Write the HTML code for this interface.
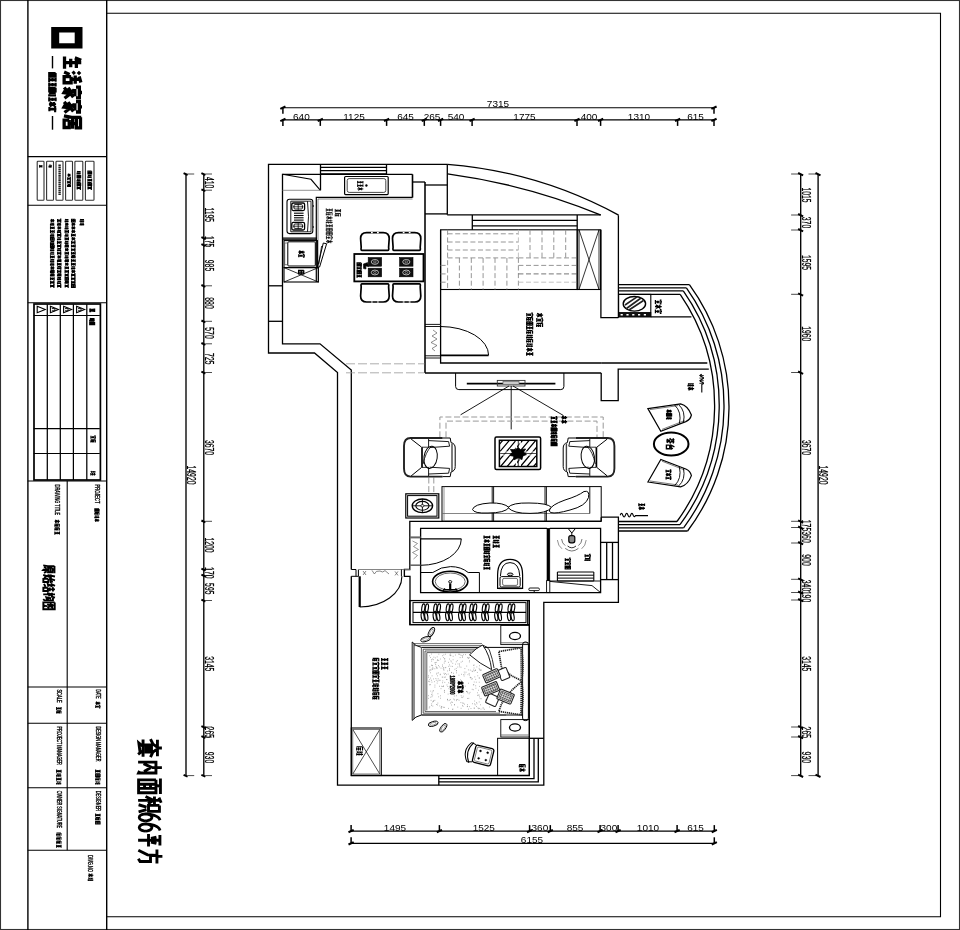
<!DOCTYPE html>
<html><head><meta charset="utf-8"><title>plan</title>
<style>
html,body{margin:0;padding:0;background:#fff;}
body{width:960px;height:930px;overflow:hidden;font-family:"Liberation Sans",sans-serif;}
svg{display:block;position:absolute;left:0;top:0;will-change:transform;}
text{font-family:"Liberation Sans",sans-serif;fill:#000;}
</style></head><body>
<svg width="960" height="930" viewBox="0 0 960 930" fill="none" stroke="#000" stroke-width="1.1" stroke-linecap="butt">
<g id="frame">
<rect x="0.5" y="0.5" width="959" height="929" stroke-width="1.1" stroke="#333"/>
<line x1="27.9" y1="0" x2="27.9" y2="930" stroke-width="1.4"/>
<line x1="106.7" y1="0" x2="106.7" y2="930" stroke-width="1.4"/>
<path d="M106.6,13.3 L940.5,13.3 L940.5,916.8 L106.6,916.8"/>
<line x1="27.7" y1="156.6" x2="106.6" y2="156.6"/>
<line x1="27.7" y1="205.3" x2="106.6" y2="205.3"/>
<line x1="27.7" y1="302.7" x2="106.6" y2="302.7"/>
<line x1="27.7" y1="481" x2="106.6" y2="481"/>
<line x1="27.7" y1="687" x2="106.6" y2="687"/>
<line x1="27.7" y1="723.2" x2="106.6" y2="723.2"/>
<line x1="27.7" y1="787.8" x2="106.6" y2="787.8"/>
<line x1="27.7" y1="850.3" x2="106.6" y2="850.3"/>
<line x1="67.2" y1="481" x2="67.2" y2="850.3"/>
<rect x="34" y="304" width="66.4" height="176" stroke-width="1.7"/>
<line x1="47.3" y1="304.3" x2="47.3" y2="480" stroke-width="1.25"/>
<line x1="60.3" y1="304.3" x2="60.3" y2="480" stroke-width="1.25"/>
<line x1="73.4" y1="304.3" x2="73.4" y2="480" stroke-width="1.25"/>
<line x1="86.8" y1="304.3" x2="86.8" y2="480" stroke-width="1.25"/>
<line x1="33.7" y1="315.5" x2="99.8" y2="315.5" stroke-width="1.2"/>
<line x1="33.7" y1="428.6" x2="99.8" y2="428.6"/>
<line x1="33.7" y1="453.5" x2="99.8" y2="453.5"/>
<path d="M37.2,306.3 L45.2,309.6 L37.2,312.8 Z" stroke-width="1.1"/>
<path d="M50.4,306.3 L58.4,309.6 L50.4,312.8 Z" stroke-width="1.1"/>
<path d="M51.8,308.6 L54.9,308.6 L54.9,310.8 L51.8,310.8" stroke-width="0.9"/>
<path d="M63.6,306.3 L71.6,309.6 L63.6,312.8 Z" stroke-width="1.1"/>
<path d="M65,308.6 L68.1,308.6 L68.1,310.8 L65,310.8" stroke-width="0.9"/>
<path d="M76.6,306.3 L84.6,309.6 L76.6,312.8 Z" stroke-width="1.1"/>
<path d="M78,308.6 L81.1,308.6 L81.1,310.8 L78,310.8" stroke-width="0.9"/>
<rect x="37.2" y="161.2" width="6.8" height="39.1" rx="0.8" stroke-width="1.1" stroke="#333"/>
<rect x="46.6" y="161.2" width="6.9" height="39.1" rx="0.8" stroke-width="1.1" stroke="#333"/>
<rect x="56" y="161.2" width="7" height="39.1" rx="0.8" stroke-width="1.1" stroke="#333"/>
<rect x="65.6" y="161.2" width="6.9" height="39.1" rx="0.8" stroke-width="1.1" stroke="#333"/>
<rect x="74.9" y="161.2" width="7.9" height="39.1" rx="0.8" stroke-width="1.1" stroke="#333"/>
<rect x="85.4" y="161.2" width="8.6" height="39.1" rx="0.8" stroke-width="1.1" stroke="#333"/>
<path d="M51.2,27.1H82.5V48.6H51.2Z M59.2,32.6V43.2H74.7V32.6Z" fill="#000" stroke="none" fill-rule="evenodd"/>
<line x1="52.5" y1="56" x2="52.5" y2="68.4" stroke-width="1.4"/>
<line x1="52.5" y1="116" x2="52.5" y2="129.7" stroke-width="1.4"/>
</g>
<g id="dims">
<line x1="283" y1="107.7" x2="714" y2="107.7" stroke-width="1.15"/>
<line x1="283" y1="119.9" x2="714" y2="119.9" stroke-width="1.15"/>
<line x1="282.9" y1="107.3" x2="282.9" y2="113.7" stroke-width="1.5"/>
<line x1="280.3" y1="108.9" x2="285.5" y2="106.5" stroke-width="2.1"/>
<line x1="714" y1="107.3" x2="714" y2="113.7" stroke-width="1.5"/>
<line x1="711.4" y1="108.9" x2="716.6" y2="106.5" stroke-width="2.1"/>
<line x1="282.9" y1="119.5" x2="282.9" y2="125.9" stroke-width="1.5"/>
<line x1="280.3" y1="121.1" x2="285.5" y2="118.7" stroke-width="2.1"/>
<line x1="320.3" y1="119.5" x2="320.3" y2="125.9" stroke-width="1.5"/>
<line x1="317.7" y1="121.1" x2="322.9" y2="118.7" stroke-width="2.1"/>
<line x1="386.6" y1="119.5" x2="386.6" y2="125.9" stroke-width="1.5"/>
<line x1="384" y1="121.1" x2="389.2" y2="118.7" stroke-width="2.1"/>
<line x1="424.3" y1="119.5" x2="424.3" y2="125.9" stroke-width="1.5"/>
<line x1="421.7" y1="121.1" x2="426.9" y2="118.7" stroke-width="2.1"/>
<line x1="440.6" y1="119.5" x2="440.6" y2="125.9" stroke-width="1.5"/>
<line x1="438" y1="121.1" x2="443.2" y2="118.7" stroke-width="2.1"/>
<line x1="472.1" y1="119.5" x2="472.1" y2="125.9" stroke-width="1.5"/>
<line x1="469.5" y1="121.1" x2="474.7" y2="118.7" stroke-width="2.1"/>
<line x1="577" y1="119.5" x2="577" y2="125.9" stroke-width="1.5"/>
<line x1="574.4" y1="121.1" x2="579.6" y2="118.7" stroke-width="2.1"/>
<line x1="600.6" y1="119.5" x2="600.6" y2="125.9" stroke-width="1.5"/>
<line x1="598" y1="121.1" x2="603.2" y2="118.7" stroke-width="2.1"/>
<line x1="677.6" y1="119.5" x2="677.6" y2="125.9" stroke-width="1.5"/>
<line x1="675" y1="121.1" x2="680.2" y2="118.7" stroke-width="2.1"/>
<line x1="714" y1="119.5" x2="714" y2="125.9" stroke-width="1.5"/>
<line x1="711.4" y1="121.1" x2="716.6" y2="118.7" stroke-width="2.1"/>
<text transform="translate(498,107.3) scale(1.09,1)" text-anchor="middle" font-size="9.2" stroke="#000" stroke-width="0" fill="#000">7315</text>
<text transform="translate(301.4,119.6) scale(1.09,1)" text-anchor="middle" font-size="9.2" stroke="#000" stroke-width="0" fill="#000">640</text>
<text transform="translate(354,119.6) scale(1.09,1)" text-anchor="middle" font-size="9.2" stroke="#000" stroke-width="0" fill="#000">1125</text>
<text transform="translate(405.5,119.6) scale(1.09,1)" text-anchor="middle" font-size="9.2" stroke="#000" stroke-width="0" fill="#000">645</text>
<text transform="translate(432,119.6) scale(1.09,1)" text-anchor="middle" font-size="9.2" stroke="#000" stroke-width="0" fill="#000">265</text>
<text transform="translate(456,119.6) scale(1.09,1)" text-anchor="middle" font-size="9.2" stroke="#000" stroke-width="0" fill="#000">540</text>
<text transform="translate(524.5,119.6) scale(1.09,1)" text-anchor="middle" font-size="9.2" stroke="#000" stroke-width="0" fill="#000">1775</text>
<text transform="translate(589,119.6) scale(1.09,1)" text-anchor="middle" font-size="9.2" stroke="#000" stroke-width="0" fill="#000">400</text>
<text transform="translate(639,119.6) scale(1.09,1)" text-anchor="middle" font-size="9.2" stroke="#000" stroke-width="0" fill="#000">1310</text>
<text transform="translate(695.5,119.6) scale(1.09,1)" text-anchor="middle" font-size="9.2" stroke="#000" stroke-width="0" fill="#000">615</text>
<line x1="351" y1="831.1" x2="714.3" y2="831.1" stroke-width="1.15"/>
<line x1="351" y1="843.3" x2="714.3" y2="843.3" stroke-width="1.15"/>
<line x1="351.1" y1="843.7" x2="351.1" y2="837.3" stroke-width="1.5"/>
<line x1="348.5" y1="844.5" x2="353.7" y2="842.1" stroke-width="2.1"/>
<line x1="714.3" y1="843.7" x2="714.3" y2="837.3" stroke-width="1.5"/>
<line x1="711.7" y1="844.5" x2="716.9" y2="842.1" stroke-width="2.1"/>
<line x1="351.1" y1="831.5" x2="351.1" y2="825.1" stroke-width="1.5"/>
<line x1="348.5" y1="832.3" x2="353.7" y2="829.9" stroke-width="2.1"/>
<line x1="439.4" y1="831.5" x2="439.4" y2="825.1" stroke-width="1.5"/>
<line x1="436.8" y1="832.3" x2="442" y2="829.9" stroke-width="2.1"/>
<line x1="529.6" y1="831.5" x2="529.6" y2="825.1" stroke-width="1.5"/>
<line x1="527" y1="832.3" x2="532.2" y2="829.9" stroke-width="2.1"/>
<line x1="550.3" y1="831.5" x2="550.3" y2="825.1" stroke-width="1.5"/>
<line x1="547.7" y1="832.3" x2="552.9" y2="829.9" stroke-width="2.1"/>
<line x1="600.1" y1="831.5" x2="600.1" y2="825.1" stroke-width="1.5"/>
<line x1="597.5" y1="832.3" x2="602.7" y2="829.9" stroke-width="2.1"/>
<line x1="618.1" y1="831.5" x2="618.1" y2="825.1" stroke-width="1.5"/>
<line x1="615.5" y1="832.3" x2="620.7" y2="829.9" stroke-width="2.1"/>
<line x1="677.1" y1="831.5" x2="677.1" y2="825.1" stroke-width="1.5"/>
<line x1="674.5" y1="832.3" x2="679.7" y2="829.9" stroke-width="2.1"/>
<line x1="714.3" y1="831.5" x2="714.3" y2="825.1" stroke-width="1.5"/>
<line x1="711.7" y1="832.3" x2="716.9" y2="829.9" stroke-width="2.1"/>
<text transform="translate(395,830.8) scale(1.09,1)" text-anchor="middle" font-size="9.2" stroke="#000" stroke-width="0" fill="#000">1495</text>
<text transform="translate(483.8,830.8) scale(1.09,1)" text-anchor="middle" font-size="9.2" stroke="#000" stroke-width="0" fill="#000">1525</text>
<text transform="translate(539.9,830.8) scale(1.09,1)" text-anchor="middle" font-size="9.2" stroke="#000" stroke-width="0" fill="#000">360</text>
<text transform="translate(575,830.8) scale(1.09,1)" text-anchor="middle" font-size="9.2" stroke="#000" stroke-width="0" fill="#000">855</text>
<text transform="translate(608.9,830.8) scale(1.09,1)" text-anchor="middle" font-size="9.2" stroke="#000" stroke-width="0" fill="#000">300</text>
<text transform="translate(648,830.8) scale(1.09,1)" text-anchor="middle" font-size="9.2" stroke="#000" stroke-width="0" fill="#000">1010</text>
<text transform="translate(695.5,830.8) scale(1.09,1)" text-anchor="middle" font-size="9.2" stroke="#000" stroke-width="0" fill="#000">615</text>
<text transform="translate(532,843) scale(1.09,1)" text-anchor="middle" font-size="9.2" stroke="#000" stroke-width="0" fill="#000">6155</text>
<line x1="186" y1="174" x2="186" y2="775.6" stroke-width="1.35"/>
<line x1="203.8" y1="174" x2="203.8" y2="775.6" stroke-width="1.35"/>
<line x1="187.6" y1="174" x2="194.2" y2="174" stroke-width="0.9" stroke="#3a3a3a"/>
<line x1="183.6" y1="173.2" x2="187.6" y2="175" stroke-width="2.0"/>
<line x1="187.6" y1="775.6" x2="194.2" y2="775.6" stroke-width="0.9" stroke="#3a3a3a"/>
<line x1="183.6" y1="774.8" x2="187.6" y2="776.6" stroke-width="2.0"/>
<line x1="205.4" y1="174" x2="212" y2="174" stroke-width="0.9" stroke="#3a3a3a"/>
<line x1="201.4" y1="173.2" x2="205.4" y2="175" stroke-width="2.0"/>
<line x1="205.4" y1="190.2" x2="212" y2="190.2" stroke-width="0.9" stroke="#3a3a3a"/>
<line x1="201.4" y1="189.4" x2="205.4" y2="191.2" stroke-width="2.0"/>
<line x1="205.4" y1="238" x2="212" y2="238" stroke-width="0.9" stroke="#3a3a3a"/>
<line x1="201.4" y1="237.2" x2="205.4" y2="239" stroke-width="2.0"/>
<line x1="205.4" y1="245" x2="212" y2="245" stroke-width="0.9" stroke="#3a3a3a"/>
<line x1="201.4" y1="244.2" x2="205.4" y2="246" stroke-width="2.0"/>
<line x1="205.4" y1="285.8" x2="212" y2="285.8" stroke-width="0.9" stroke="#3a3a3a"/>
<line x1="201.4" y1="285" x2="205.4" y2="286.8" stroke-width="2.0"/>
<line x1="205.4" y1="321.3" x2="212" y2="321.3" stroke-width="0.9" stroke="#3a3a3a"/>
<line x1="201.4" y1="320.5" x2="205.4" y2="322.3" stroke-width="2.0"/>
<line x1="205.4" y1="343.8" x2="212" y2="343.8" stroke-width="0.9" stroke="#3a3a3a"/>
<line x1="201.4" y1="343" x2="205.4" y2="344.8" stroke-width="2.0"/>
<line x1="205.4" y1="372.5" x2="212" y2="372.5" stroke-width="0.9" stroke="#3a3a3a"/>
<line x1="201.4" y1="371.7" x2="205.4" y2="373.5" stroke-width="2.0"/>
<line x1="205.4" y1="521.3" x2="212" y2="521.3" stroke-width="0.9" stroke="#3a3a3a"/>
<line x1="201.4" y1="520.5" x2="205.4" y2="522.3" stroke-width="2.0"/>
<line x1="205.4" y1="569.5" x2="212" y2="569.5" stroke-width="0.9" stroke="#3a3a3a"/>
<line x1="201.4" y1="568.7" x2="205.4" y2="570.5" stroke-width="2.0"/>
<line x1="205.4" y1="575.5" x2="212" y2="575.5" stroke-width="0.9" stroke="#3a3a3a"/>
<line x1="201.4" y1="574.7" x2="205.4" y2="576.5" stroke-width="2.0"/>
<line x1="205.4" y1="600.5" x2="212" y2="600.5" stroke-width="0.9" stroke="#3a3a3a"/>
<line x1="201.4" y1="599.7" x2="205.4" y2="601.5" stroke-width="2.0"/>
<line x1="205.4" y1="727" x2="212" y2="727" stroke-width="0.9" stroke="#3a3a3a"/>
<line x1="201.4" y1="726.2" x2="205.4" y2="728" stroke-width="2.0"/>
<line x1="205.4" y1="737" x2="212" y2="737" stroke-width="0.9" stroke="#3a3a3a"/>
<line x1="201.4" y1="736.2" x2="205.4" y2="738" stroke-width="2.0"/>
<line x1="205.4" y1="775.6" x2="212" y2="775.6" stroke-width="0.9" stroke="#3a3a3a"/>
<line x1="201.4" y1="774.8" x2="205.4" y2="776.6" stroke-width="2.0"/>
<text transform="translate(204.9,182.6) rotate(90) scale(0.57,1)" text-anchor="middle" font-size="12" stroke="#000" stroke-width="0.25" fill="#000">410</text>
<text transform="translate(204.9,214.8) rotate(90) scale(0.57,1)" text-anchor="middle" font-size="12" stroke="#000" stroke-width="0.25" fill="#000">1195</text>
<text transform="translate(204.9,241.7) rotate(90) scale(0.57,1)" text-anchor="middle" font-size="12" stroke="#000" stroke-width="0.25" fill="#000">175</text>
<text transform="translate(204.9,265.5) rotate(90) scale(0.57,1)" text-anchor="middle" font-size="12" stroke="#000" stroke-width="0.25" fill="#000">985</text>
<text transform="translate(204.9,303) rotate(90) scale(0.57,1)" text-anchor="middle" font-size="12" stroke="#000" stroke-width="0.25" fill="#000">880</text>
<text transform="translate(204.9,333) rotate(90) scale(0.57,1)" text-anchor="middle" font-size="12" stroke="#000" stroke-width="0.25" fill="#000">570</text>
<text transform="translate(204.9,358.8) rotate(90) scale(0.57,1)" text-anchor="middle" font-size="12" stroke="#000" stroke-width="0.25" fill="#000">725</text>
<text transform="translate(204.9,447.5) rotate(90) scale(0.57,1)" text-anchor="middle" font-size="12" stroke="#000" stroke-width="0.25" fill="#000">3670</text>
<text transform="translate(204.9,545) rotate(90) scale(0.57,1)" text-anchor="middle" font-size="12" stroke="#000" stroke-width="0.25" fill="#000">1200</text>
<text transform="translate(204.9,572.8) rotate(90) scale(0.57,1)" text-anchor="middle" font-size="12" stroke="#000" stroke-width="0.25" fill="#000">170</text>
<text transform="translate(204.9,588.8) rotate(90) scale(0.57,1)" text-anchor="middle" font-size="12" stroke="#000" stroke-width="0.25" fill="#000">595</text>
<text transform="translate(204.9,663.8) rotate(90) scale(0.57,1)" text-anchor="middle" font-size="12" stroke="#000" stroke-width="0.25" fill="#000">3145</text>
<text transform="translate(204.9,732.3) rotate(90) scale(0.57,1)" text-anchor="middle" font-size="12" stroke="#000" stroke-width="0.25" fill="#000">265</text>
<text transform="translate(204.9,757.5) rotate(90) scale(0.57,1)" text-anchor="middle" font-size="12" stroke="#000" stroke-width="0.25" fill="#000">930</text>
<text transform="translate(187,475) rotate(90) scale(0.57,1)" text-anchor="middle" font-size="12" stroke="#000" stroke-width="0.25" fill="#000">14920</text>
<line x1="800.7" y1="174" x2="800.7" y2="775.6" stroke-width="1.35"/>
<line x1="818.1" y1="174" x2="818.1" y2="775.6" stroke-width="1.35"/>
<line x1="808.5" y1="174" x2="816.1" y2="174" stroke-width="0.9" stroke="#3a3a3a"/>
<line x1="815.5" y1="173" x2="820.5" y2="175.4" stroke-width="2.0"/>
<line x1="808.5" y1="775.6" x2="816.1" y2="775.6" stroke-width="0.9" stroke="#3a3a3a"/>
<line x1="815.5" y1="774.6" x2="820.5" y2="777" stroke-width="2.0"/>
<line x1="791.1" y1="174" x2="798.7" y2="174" stroke-width="0.9" stroke="#3a3a3a"/>
<line x1="798.1" y1="173" x2="803.1" y2="175.4" stroke-width="2.0"/>
<line x1="791.1" y1="215" x2="798.7" y2="215" stroke-width="0.9" stroke="#3a3a3a"/>
<line x1="798.1" y1="214" x2="803.1" y2="216.4" stroke-width="2.0"/>
<line x1="791.1" y1="230" x2="798.7" y2="230" stroke-width="0.9" stroke="#3a3a3a"/>
<line x1="798.1" y1="229" x2="803.1" y2="231.4" stroke-width="2.0"/>
<line x1="791.1" y1="294.3" x2="798.7" y2="294.3" stroke-width="0.9" stroke="#3a3a3a"/>
<line x1="798.1" y1="293.3" x2="803.1" y2="295.7" stroke-width="2.0"/>
<line x1="791.1" y1="372.5" x2="798.7" y2="372.5" stroke-width="0.9" stroke="#3a3a3a"/>
<line x1="798.1" y1="371.5" x2="803.1" y2="373.9" stroke-width="2.0"/>
<line x1="791.1" y1="521.3" x2="798.7" y2="521.3" stroke-width="0.9" stroke="#3a3a3a"/>
<line x1="798.1" y1="520.3" x2="803.1" y2="522.7" stroke-width="2.0"/>
<line x1="791.1" y1="527.5" x2="798.7" y2="527.5" stroke-width="0.9" stroke="#3a3a3a"/>
<line x1="798.1" y1="526.5" x2="803.1" y2="528.9" stroke-width="2.0"/>
<line x1="791.1" y1="543" x2="798.7" y2="543" stroke-width="0.9" stroke="#3a3a3a"/>
<line x1="798.1" y1="542" x2="803.1" y2="544.4" stroke-width="2.0"/>
<line x1="791.1" y1="579.3" x2="798.7" y2="579.3" stroke-width="0.9" stroke="#3a3a3a"/>
<line x1="798.1" y1="578.3" x2="803.1" y2="580.7" stroke-width="2.0"/>
<line x1="791.1" y1="592.5" x2="798.7" y2="592.5" stroke-width="0.9" stroke="#3a3a3a"/>
<line x1="798.1" y1="591.5" x2="803.1" y2="593.9" stroke-width="2.0"/>
<line x1="791.1" y1="600" x2="798.7" y2="600" stroke-width="0.9" stroke="#3a3a3a"/>
<line x1="798.1" y1="599" x2="803.1" y2="601.4" stroke-width="2.0"/>
<line x1="791.1" y1="727" x2="798.7" y2="727" stroke-width="0.9" stroke="#3a3a3a"/>
<line x1="798.1" y1="726" x2="803.1" y2="728.4" stroke-width="2.0"/>
<line x1="791.1" y1="737" x2="798.7" y2="737" stroke-width="0.9" stroke="#3a3a3a"/>
<line x1="798.1" y1="736" x2="803.1" y2="738.4" stroke-width="2.0"/>
<line x1="791.1" y1="775.6" x2="798.7" y2="775.6" stroke-width="0.9" stroke="#3a3a3a"/>
<line x1="798.1" y1="774.6" x2="803.1" y2="777" stroke-width="2.0"/>
<text transform="translate(801.7,195) rotate(90) scale(0.57,1)" text-anchor="middle" font-size="12" stroke="#000" stroke-width="0.25" fill="#000">1015</text>
<text transform="translate(801.7,222.5) rotate(90) scale(0.57,1)" text-anchor="middle" font-size="12" stroke="#000" stroke-width="0.25" fill="#000">370</text>
<text transform="translate(801.7,262.5) rotate(90) scale(0.57,1)" text-anchor="middle" font-size="12" stroke="#000" stroke-width="0.25" fill="#000">1595</text>
<text transform="translate(801.7,333.8) rotate(90) scale(0.57,1)" text-anchor="middle" font-size="12" stroke="#000" stroke-width="0.25" fill="#000">1960</text>
<text transform="translate(801.7,447.5) rotate(90) scale(0.57,1)" text-anchor="middle" font-size="12" stroke="#000" stroke-width="0.25" fill="#000">3670</text>
<text transform="translate(801.7,525.5) rotate(90) scale(0.57,1)" text-anchor="middle" font-size="12" stroke="#000" stroke-width="0.25" fill="#000">175</text>
<text transform="translate(801.7,537) rotate(90) scale(0.57,1)" text-anchor="middle" font-size="12" stroke="#000" stroke-width="0.25" fill="#000">360</text>
<text transform="translate(801.7,560) rotate(90) scale(0.57,1)" text-anchor="middle" font-size="12" stroke="#000" stroke-width="0.25" fill="#000">900</text>
<text transform="translate(801.7,585.5) rotate(90) scale(0.57,1)" text-anchor="middle" font-size="12" stroke="#000" stroke-width="0.25" fill="#000">340</text>
<text transform="translate(801.7,596.5) rotate(90) scale(0.57,1)" text-anchor="middle" font-size="12" stroke="#000" stroke-width="0.25" fill="#000">190</text>
<text transform="translate(801.7,663.8) rotate(90) scale(0.57,1)" text-anchor="middle" font-size="12" stroke="#000" stroke-width="0.25" fill="#000">3145</text>
<text transform="translate(801.7,732.3) rotate(90) scale(0.57,1)" text-anchor="middle" font-size="12" stroke="#000" stroke-width="0.25" fill="#000">265</text>
<text transform="translate(801.7,757.3) rotate(90) scale(0.57,1)" text-anchor="middle" font-size="12" stroke="#000" stroke-width="0.25" fill="#000">930</text>
<text transform="translate(819.2,475) rotate(90) scale(0.57,1)" text-anchor="middle" font-size="12" stroke="#000" stroke-width="0.25" fill="#000">14920</text>
</g>
<g id="walls" stroke-width="1.3">
<path d="M447.5,164.3 L268.5,164.3 L268.5,353 L314.5,353 L337.5,372.5 L337.5,785.2 L543.8,785.2 L543.8,602.3 L618.4,602.3 L618.4,517.2 L601.2,517.2"/>
<path d="M412.5,174.3 L282.5,174.3 L282.5,343.8 L320,343.8 L351.3,370 L351.3,569.5"/>
<path d="M351.3,576.3 L351.3,775.5 L529.3,775.5 L529.3,600.8"/>
<line x1="268.5" y1="285.8" x2="282.5" y2="285.8"/>
<line x1="268.5" y1="321.3" x2="282.5" y2="321.3"/>
<line x1="320.5" y1="167.4" x2="386.5" y2="167.4"/>
<line x1="320.5" y1="170.6" x2="386.5" y2="170.6"/>
<line x1="320.5" y1="174" x2="386.5" y2="174"/>
<line x1="320.5" y1="164.3" x2="320.5" y2="190.3"/>
<line x1="386.5" y1="164.3" x2="386.5" y2="174.3"/>
<path d="M412.5,174.3 L412.5,197.6" stroke-width="1.6"/>
<path d="M412.5,182 L425,182"/>
<line x1="425" y1="185" x2="447.5" y2="185"/>
<line x1="447.3" y1="164.3" x2="447.3" y2="214.7"/>
<path d="M447.5,164.3 A430 430 0 0 1 618.6,215.1"/>
<path d="M447.5,173.8 A620 620 0 0 1 600.4,214.9"/>
<line x1="425" y1="213.9" x2="447.2" y2="213.9"/>
<line x1="447.2" y1="214.9" x2="601" y2="214.9"/>
<line x1="472.3" y1="220.3" x2="577.2" y2="220.3"/>
<line x1="472.3" y1="225.8" x2="577.2" y2="225.8"/>
<line x1="472.3" y1="214.9" x2="472.3" y2="229.8"/>
<line x1="577.2" y1="214.9" x2="577.2" y2="229.8"/>
<line x1="425" y1="182" x2="425" y2="373" stroke-width="1.55"/>
<path d="M440.6,229.8 L440.6,324.4"/>
<path d="M440.6,358 L440.6,363 L601.2,363"/>
<line x1="425" y1="373" x2="601.2" y2="373"/>
<path d="M618.4,215.3 L618.4,317.6"/>
<path d="M600.9,229.8 L600.9,317.6 L618.4,317.6"/>
<line x1="601.2" y1="363" x2="707.3" y2="363"/>
<path d="M601.2,373 L601.2,400.6 L618.2,400.6 L618.2,369.2 L708.8,369.2"/>
<path d="M601.2,521.4 L409.8,521.4 L409.8,569.5 L404.4,569.5 L404.4,576.3 L410,576.3 L410,624.6 L529.3,624.6"/>
<path d="M547,528.3 L420.6,528.3 L420.6,592.6 L600.6,592.6 L600.6,528.3 L549.8,528.3"/>
<line x1="601.2" y1="517.2" x2="601.2" y2="521.4"/>
<rect x="547" y="528.3" width="2.8" height="52.3" stroke-width="0.6" fill="#000"/>
<rect x="546.6" y="580.6" width="3.2" height="12" stroke-width="0.9"/>
<line x1="606.7" y1="542.4" x2="606.7" y2="579.6"/>
<line x1="612.5" y1="542.4" x2="612.5" y2="579.6"/>
<line x1="600.6" y1="542.4" x2="618.4" y2="542.4"/>
<line x1="600.6" y1="579.6" x2="618.4" y2="579.6"/>
<rect x="409.8" y="600.6" width="119.5" height="24" stroke-width="1.3"/>
<path d="M438.8,778.6 L534,778.6 L534,738.3"/>
<path d="M438.8,781.9 L538.3,781.9 L538.3,738.3"/>
<line x1="438.8" y1="775.5" x2="438.8" y2="785.2"/>
<line x1="529.3" y1="738.3" x2="543.8" y2="738.3"/>
<line x1="618.6" y1="284.7" x2="689.4" y2="284.7"/>
<line x1="618.4" y1="531" x2="687.6" y2="531"/>
<path d="M689.4,284.7 A207.49 207.49 0 0 1 687.6,531"/>
<line x1="618.6" y1="287.8" x2="686.4" y2="287.8"/>
<line x1="618.4" y1="527.8" x2="683.6" y2="527.8"/>
<path d="M686.4,287.8 A204.14 204.14 0 0 1 683.6,527.8"/>
<line x1="618.6" y1="290.9" x2="683.3" y2="290.9"/>
<line x1="618.4" y1="524.6" x2="680" y2="524.6"/>
<path d="M683.3,290.9 A200.62 200.62 0 0 1 680,524.6"/>
<line x1="618.6" y1="294.4" x2="680.2" y2="294.4"/>
<line x1="618.4" y1="521.5" x2="677" y2="521.5"/>
<path d="M680.2,294.4 A197.11 197.11 0 0 1 677,521.5"/>
<line x1="650.8" y1="316.8" x2="691.4" y2="316.8"/>
</g>
<g id="furn">
<path d="M282.5,174.3 L311,179.3 L320.4,190.3"/>
<line x1="282.5" y1="190.3" x2="320.4" y2="190.3" stroke-width="0.8" stroke="#777"/>
<path d="M316.3,282 L316.3,197.4 L412.5,197.4" stroke-width="1.2"/>
<path d="M318,282 L318,199 L412.5,199" stroke-width="0.7" stroke="#555"/>
<rect x="344.6" y="176.5" width="43.6" height="18.1" rx="1" stroke-width="1.2"/>
<rect x="347.2" y="178.6" width="38.6" height="13.8" rx="2" stroke-width="0.9" stroke="#333"/>
<ellipse cx="366.4" cy="185.5" rx="1" ry="1" stroke-width="0.5" fill="#000"/>
<rect x="287" y="199.3" width="25.8" height="34.3" rx="2.5" stroke-width="1.1"/>
<path d="M290.8,201.2 H307.5 Q309.5,217 307.5,231.8 H290.8 Z" stroke-width="0.9"/>
<path d="M307.5,201.2 H311 V231.8 H307.5" stroke-width="0.8"/>
<rect x="291.8" y="203" width="12.8" height="7.6" rx="1.5" stroke-width="1.3"/>
<rect x="294" y="204.6" width="8.4" height="4.4" rx="1" stroke-width="0.9"/>
<line x1="298.2" y1="203.8" x2="298.2" y2="209.8" stroke-width="0.8"/>
<line x1="293" y1="206.8" x2="303.4" y2="206.8" stroke-width="0.8"/>
<rect x="291.8" y="222.4" width="12.8" height="7.6" rx="1.5" stroke-width="1.3"/>
<rect x="294" y="224" width="8.4" height="4.4" rx="1" stroke-width="0.9"/>
<line x1="298.2" y1="223.2" x2="298.2" y2="229.2" stroke-width="0.8"/>
<line x1="293" y1="226.2" x2="303.4" y2="226.2" stroke-width="0.8"/>
<line x1="294" y1="213.2" x2="303.6" y2="213.2" stroke-width="1.1"/>
<line x1="294" y1="215.5" x2="303.6" y2="215.5" stroke-width="1.1"/>
<line x1="294" y1="217.8" x2="303.6" y2="217.8" stroke-width="1.1"/>
<line x1="294" y1="220.1" x2="303.6" y2="220.1" stroke-width="1.1"/>
<line x1="312.8" y1="206" x2="313.8" y2="206" stroke-width="1.6"/>
<line x1="312.8" y1="227" x2="313.8" y2="227" stroke-width="1.6"/>
<line x1="282.5" y1="238.2" x2="317" y2="238.2" stroke-width="1.2"/>
<line x1="282.5" y1="239.6" x2="317" y2="239.6" stroke-width="0.9"/>
<rect x="284" y="240.6" width="33.4" height="27" stroke-width="1.1"/>
<rect x="287.8" y="241.8" width="27.5" height="24.2" rx="1" stroke-width="1"/>
<rect x="284.8" y="243" width="2.6" height="21.8" stroke-width="0.7" stroke="#444"/>
<path d="M317.6,267 L323.3,243 L326.6,243.8 L319.6,267 Z" stroke-width="1"/>
<line x1="321.6" y1="246" x2="318.8" y2="264" stroke-width="0.8"/>
<rect x="284" y="267.6" width="34.4" height="14.4" stroke-width="1.1"/>
<line x1="284" y1="267.6" x2="318.4" y2="282" stroke-width="0.8"/>
<line x1="284" y1="282" x2="318.4" y2="267.6" stroke-width="0.8"/>
<rect x="354.3" y="254" width="69.2" height="27.4" stroke-width="1.8"/>
<path d="M362.1,250.4 Q360.6,250.4 361.2,247.4 L360.6,238.6 Q360.6,232.6 366.6,232.6 H383.2 Q389.2,232.6 389.2,238.6 L388.6,247.4 Q389.2,250.4 387.7,250.4 Z" stroke-width="1.7"/>
<line x1="371" y1="232.6" x2="372.8" y2="232.6" stroke-width="1.2" stroke="#fff"/>
<line x1="377" y1="232.6" x2="378.8" y2="232.6" stroke-width="1.2" stroke="#fff"/>
<path d="M394,250.4 Q392.5,250.4 393.1,247.4 L392.5,238.6 Q392.5,232.6 398.5,232.6 H414.8 Q420.8,232.6 420.8,238.6 L420.2,247.4 Q420.8,250.4 419.3,250.4 Z" stroke-width="1.7"/>
<line x1="402.75" y1="232.6" x2="404.55" y2="232.6" stroke-width="1.2" stroke="#fff"/>
<line x1="408.75" y1="232.6" x2="410.55" y2="232.6" stroke-width="1.2" stroke="#fff"/>
<path d="M362.1,283.8 Q360.6,283.8 361.2,286.8 L360.6,296 Q360.6,302 366.6,302 H383.2 Q389.2,302 389.2,296 L388.6,286.8 Q389.2,283.8 387.7,283.8 Z" stroke-width="1.7"/>
<line x1="371" y1="302" x2="372.8" y2="302" stroke-width="1.2" stroke="#fff"/>
<line x1="377" y1="302" x2="378.8" y2="302" stroke-width="1.2" stroke="#fff"/>
<path d="M394,283.8 Q392.5,283.8 393.1,286.8 L392.5,296 Q392.5,302 398.5,302 H414.8 Q420.8,302 420.8,296 L420.2,286.8 Q420.8,283.8 419.3,283.8 Z" stroke-width="1.7"/>
<line x1="402.75" y1="302" x2="404.55" y2="302" stroke-width="1.2" stroke="#fff"/>
<line x1="408.75" y1="302" x2="410.55" y2="302" stroke-width="1.2" stroke="#fff"/>
<rect x="368.2" y="257.6" width="13.4" height="8.6" stroke-width="0.6" fill="#111"/>
<ellipse cx="374.9" cy="261.9" rx="3.6" ry="2.4" stroke-width="0.8" stroke="#ddd"/>
<ellipse cx="374.9" cy="261.9" rx="1.4" ry="1" stroke-width="0.6" stroke="#bbb"/>
<rect x="368.2" y="268.2" width="13.4" height="8.6" stroke-width="0.6" fill="#111"/>
<ellipse cx="374.9" cy="272.5" rx="3.6" ry="2.4" stroke-width="0.8" stroke="#ddd"/>
<ellipse cx="374.9" cy="272.5" rx="1.4" ry="1" stroke-width="0.6" stroke="#bbb"/>
<rect x="399.6" y="257.6" width="13.4" height="8.6" stroke-width="0.6" fill="#111"/>
<ellipse cx="406.3" cy="261.9" rx="3.6" ry="2.4" stroke-width="0.8" stroke="#ddd"/>
<ellipse cx="406.3" cy="261.9" rx="1.4" ry="1" stroke-width="0.6" stroke="#bbb"/>
<rect x="399.6" y="268.2" width="13.4" height="8.6" stroke-width="0.6" fill="#111"/>
<ellipse cx="406.3" cy="272.5" rx="3.6" ry="2.4" stroke-width="0.8" stroke="#ddd"/>
<ellipse cx="406.3" cy="272.5" rx="1.4" ry="1" stroke-width="0.6" stroke="#bbb"/>
<rect x="440.6" y="229.8" width="136.6" height="59.7" stroke-width="1.1"/>
<line x1="447.6" y1="229.8" x2="447.6" y2="289.5" stroke-width="0.9" stroke="#8a8a8a" stroke-dasharray="5 2.6"/>
<line x1="447.6" y1="233.8" x2="518.4" y2="233.8" stroke-width="0.9" stroke="#8a8a8a" stroke-dasharray="5 2.6"/>
<line x1="447.6" y1="242" x2="518.4" y2="242" stroke-width="0.9" stroke="#8a8a8a" stroke-dasharray="5 2.6"/>
<line x1="447.6" y1="250" x2="518.4" y2="250" stroke-width="0.9" stroke="#8a8a8a" stroke-dasharray="5 2.6"/>
<line x1="447.6" y1="257.9" x2="518.4" y2="257.9" stroke-width="0.9" stroke="#8a8a8a" stroke-dasharray="5 2.6"/>
<line x1="518.4" y1="257.9" x2="577.2" y2="257.9" stroke-width="0.9" stroke="#8a8a8a" stroke-dasharray="5 2.6"/>
<line x1="459.4" y1="257.9" x2="459.4" y2="289.5" stroke-width="0.9" stroke="#8a8a8a" stroke-dasharray="5 2.6"/>
<line x1="471.3" y1="257.9" x2="471.3" y2="289.5" stroke-width="0.9" stroke="#8a8a8a" stroke-dasharray="5 2.6"/>
<line x1="483.1" y1="257.9" x2="483.1" y2="289.5" stroke-width="0.9" stroke="#8a8a8a" stroke-dasharray="5 2.6"/>
<line x1="495" y1="257.9" x2="495" y2="289.5" stroke-width="0.9" stroke="#8a8a8a" stroke-dasharray="5 2.6"/>
<line x1="506.9" y1="257.9" x2="506.9" y2="289.5" stroke-width="0.9" stroke="#8a8a8a" stroke-dasharray="5 2.6"/>
<line x1="518.4" y1="257.9" x2="518.4" y2="289.5" stroke-width="0.9" stroke="#8a8a8a" stroke-dasharray="5 2.6"/>
<line x1="518.4" y1="229.8" x2="518.4" y2="257.9" stroke-width="0.9" stroke="#bbb" stroke-dasharray="5 2.6"/>
<line x1="530" y1="229.8" x2="530" y2="257.9" stroke-width="0.9" stroke="#8a8a8a" stroke-dasharray="5 2.6"/>
<line x1="542" y1="229.8" x2="542" y2="257.9" stroke-width="0.9" stroke="#8a8a8a" stroke-dasharray="5 2.6"/>
<line x1="553.8" y1="229.8" x2="553.8" y2="257.9" stroke-width="0.9" stroke="#8a8a8a" stroke-dasharray="5 2.6"/>
<line x1="565.7" y1="229.8" x2="565.7" y2="257.9" stroke-width="0.9" stroke="#8a8a8a" stroke-dasharray="5 2.6"/>
<line x1="518.4" y1="265.4" x2="577.2" y2="265.4" stroke-width="0.9" stroke="#8a8a8a" stroke-dasharray="5 2.6"/>
<line x1="518.4" y1="273.9" x2="577.2" y2="273.9" stroke-width="0.9" stroke="#666" stroke-dasharray="5 2.6"/>
<line x1="518.4" y1="282.2" x2="577.2" y2="282.2" stroke-width="0.9" stroke="#bbb" stroke-dasharray="5 2.6"/>
<line x1="440.6" y1="265.4" x2="447.6" y2="265.4" stroke-width="0.9" stroke="#8a8a8a" stroke-dasharray="5 2.6"/>
<line x1="440.6" y1="273.9" x2="447.6" y2="273.9" stroke-width="0.9" stroke="#8a8a8a" stroke-dasharray="5 2.6"/>
<line x1="440.6" y1="282.2" x2="447.6" y2="282.2" stroke-width="0.9" stroke="#8a8a8a" stroke-dasharray="5 2.6"/>
<rect x="577.2" y="229.8" width="23.4" height="59.7" stroke-width="1.1"/>
<line x1="579" y1="229.8" x2="579" y2="289.5" stroke-width="0.9"/>
<line x1="599" y1="229.8" x2="599" y2="289.5" stroke-width="0.8"/>
<line x1="579" y1="229.8" x2="599" y2="289.5" stroke-width="0.8"/>
<line x1="579" y1="289.5" x2="599" y2="229.8" stroke-width="0.8"/>
<line x1="425" y1="324.4" x2="440.6" y2="324.4" stroke-width="0.9"/>
<line x1="425" y1="326.5" x2="440.6" y2="326.5" stroke-width="0.9"/>
<line x1="425" y1="355.8" x2="440.6" y2="355.8" stroke-width="0.9"/>
<line x1="425" y1="358" x2="440.6" y2="358" stroke-width="0.9"/>
<line x1="440.6" y1="324.4" x2="440.6" y2="358" stroke-width="1.3"/>
<line x1="440.6" y1="355.3" x2="488.6" y2="355.3" stroke-width="1.7"/>
<path d="M488.6,355.3 A48.2 28.8 0 0 0 440.6,326.5" stroke-width="1"/>
<path d="M433,330 l4,3 l-5,3 l5,3 l-6,3.5 l6,3 l-5,3 l3,2.5" stroke-width="0.6" stroke="#444"/>
<rect x="618.6" y="294.4" width="32.2" height="22.4" stroke-width="1.1"/>
<ellipse cx="634.4" cy="303.8" rx="11.2" ry="7.3" stroke-width="1.4"/>
<path d="M626.5,308.5 L641,298 M629,310 L643.5,300.5 M625,305 L637,296.8" stroke-width="1.6" stroke="#222"/>
<rect x="618.6" y="312.4" width="32.2" height="4.4" stroke-width="0.8" fill="#111"/>
<line x1="620.6" y1="314.7" x2="648" y2="314.7" stroke-width="1.6" stroke="#fff" stroke-dasharray="2.2 3.6"/>
<line x1="346" y1="363.8" x2="424.4" y2="363.8" stroke-width="0.8" stroke="#999" stroke-dasharray="9 3"/>
<line x1="346" y1="372.8" x2="424.4" y2="372.8" stroke-width="0.8" stroke="#999" stroke-dasharray="9 3"/>
<path d="M455.6,373 V386.5 Q455.6,389.6 458.8,389.6 H560.8 Q563.9,389.6 563.9,386.5 V373" stroke-width="1"/>
<line x1="466.8" y1="383.6" x2="555.4" y2="383.6" stroke-width="1.7"/>
<rect x="497.3" y="380.4" width="27.7" height="5.6" stroke-width="0.9" stroke="#333"/>
<rect x="503" y="381.4" width="16" height="3.2" stroke-width="0.7" stroke="#666" fill="#ccc"/>
<line x1="509" y1="386" x2="460.6" y2="414.8" stroke-width="0.9"/>
<line x1="511.2" y1="386" x2="511.2" y2="429.4" stroke-width="0.9"/>
<line x1="513" y1="386" x2="563.6" y2="415.6" stroke-width="0.9"/>
<path d="M439.9,437.3 V417 H603.2 V437.3" stroke-width="1" stroke="#999" stroke-dasharray="6 2.6"/>
<path d="M446,437.3 V421.1 H597 V437.3" stroke-width="1" stroke="#999" stroke-dasharray="6 2.6"/>
<line x1="428.8" y1="477.5" x2="428.8" y2="493.8" stroke-width="1" stroke="#999" stroke-dasharray="6 2.6"/>
<line x1="433.8" y1="477.5" x2="433.8" y2="493.8" stroke-width="1" stroke="#999" stroke-dasharray="6 2.6"/>
<g transform="translate(403.6,0) scale(1,1)">
<path d="M39,438 H7 Q0.4,438 0.4,446 V468.6 Q0.4,476.6 7,476.6 H39" stroke-width="1.9" stroke="#222"/>
<path d="M39,438 H46.6 L47.4,442.6 Q51.6,443.5 51.6,448 V466.6 Q51.6,471 47.4,472 L46.6,476.6 H39" stroke-width="1"/>
<path d="M48.4,443.5 V471" stroke-width="1.4" stroke="#444"/>
<path d="M25,439 V447.2 M25,467.4 V476" stroke-width="0.9"/>
<path d="M25,440.6 L45,441.6 L46,446.2 L26,447.6" stroke-width="0.9"/>
<path d="M25,474 L45,473.2 L46,468.4 L26,467.2" stroke-width="0.9"/>
<path d="M7.5,439 L18,447.2 M7.5,476 L18,467.4" stroke-width="1"/>
<path d="M18.4,447.2 V467.4" stroke-width="1.7"/>
<path d="M18.4,447.2 H25 M18.4,467.4 H25" stroke-width="0.8"/>
<ellipse cx="27" cy="457.3" rx="6.6" ry="11.2" stroke-width="1" transform="rotate(8 27 457.3)"/>
<path d="M19.5,464 Q22,452 27.5,446.6" stroke-width="0.8"/>
</g>
<g transform="translate(614.8,0) scale(-1,1)">
<path d="M39,438 H7 Q0.4,438 0.4,446 V468.6 Q0.4,476.6 7,476.6 H39" stroke-width="1.9" stroke="#222"/>
<path d="M39,438 H46.6 L47.4,442.6 Q51.6,443.5 51.6,448 V466.6 Q51.6,471 47.4,472 L46.6,476.6 H39" stroke-width="1"/>
<path d="M48.4,443.5 V471" stroke-width="1.4" stroke="#444"/>
<path d="M25,439 V447.2 M25,467.4 V476" stroke-width="0.9"/>
<path d="M25,440.6 L45,441.6 L46,446.2 L26,447.6" stroke-width="0.9"/>
<path d="M25,474 L45,473.2 L46,468.4 L26,467.2" stroke-width="0.9"/>
<path d="M7.5,439 L18,447.2 M7.5,476 L18,467.4" stroke-width="1"/>
<path d="M18.4,447.2 V467.4" stroke-width="1.7"/>
<path d="M18.4,447.2 H25 M18.4,467.4 H25" stroke-width="0.8"/>
<ellipse cx="27" cy="457.3" rx="6.6" ry="11.2" stroke-width="1" transform="rotate(8 27 457.3)"/>
<path d="M19.5,464 Q22,452 27.5,446.6" stroke-width="0.8"/>
</g>
<rect x="495" y="437.1" width="45.6" height="32.4" rx="1.5" stroke-width="1.5"/>
<rect x="499.4" y="440.3" width="37.4" height="26.2" stroke-width="1.5"/>
<clipPath id="ct"><rect x="499.4" y="440.3" width="37.4" height="26.2"/></clipPath>
<path d="M467.6,466.5 L489.6,440.3 M474.2,466.5 L496.2,440.3 M480.8,466.5 L502.8,440.3 M487.4,466.5 L509.4,440.3 M494,466.5 L516,440.3 M500.6,466.5 L522.6,440.3 M507.2,466.5 L529.2,440.3 M513.8,466.5 L535.8,440.3 M520.4,466.5 L542.4,440.3 M527,466.5 L549,440.3 M533.6,466.5 L555.6,440.3 M540.2,466.5 L562.2,440.3 M546.8,466.5 L568.8,440.3 M553.4,466.5 L575.4,440.3" stroke-width="1.2" clip-path="url(#ct)"/>
<line x1="516.4" y1="441" x2="516.4" y2="466" stroke-width="1.3" stroke="#fff"/>
<line x1="520.2" y1="441" x2="520.2" y2="466" stroke-width="1.3" stroke="#fff"/>
<line x1="518.3" y1="441" x2="518.3" y2="466" stroke-width="0.9" stroke="#222"/>
<line x1="500.2" y1="452" x2="536" y2="452" stroke-width="1.2" stroke="#fff"/>
<line x1="500.2" y1="455" x2="536" y2="455" stroke-width="1.2" stroke="#fff"/>
<line x1="500.2" y1="453.5" x2="536" y2="453.5" stroke-width="0.8" stroke="#222"/>
<path d="M518,447.6 L520.5,449.6 L525.6,449 L523.6,452 L526.4,454.6 L522.6,456 L522,459.6 L518.4,457.8 L514,459.8 L513.6,456.2 L509.4,455.4 L512.4,452.6 L510.4,449.4 L515.4,449.8 Z" stroke-width="0.8" fill="#000"/>
<ellipse cx="518" cy="453.6" rx="5.4" ry="3.8" stroke-width="0.5" fill="#000"/>
<rect x="442" y="486.6" width="159.2" height="34.6" stroke-width="1"/>
<line x1="442" y1="513.5" x2="589.8" y2="513.5" stroke-width="0.8" stroke="#666"/>
<line x1="589.8" y1="486.6" x2="589.8" y2="513.5" stroke-width="0.9"/>
<line x1="492.2" y1="486.6" x2="492.2" y2="521.2" stroke-width="0.9"/>
<line x1="493.6" y1="486.6" x2="493.6" y2="521.2" stroke-width="0.9"/>
<line x1="545" y1="486.6" x2="545" y2="521.2" stroke-width="0.9"/>
<line x1="546.4" y1="486.6" x2="546.4" y2="521.2" stroke-width="0.9"/>
<line x1="444" y1="486.6" x2="444" y2="521.2" stroke-width="0.7" stroke="#666"/>
<path d="M472.5,509.5 Q474,504 490,503 Q504,502.6 509,507.5 Q505,513 488,513 Q474,513.6 472.5,509.5 Z" stroke-width="1" fill="#fff"/>
<path d="M508,507.5 Q512,502.6 529,503 Q548,503 551.5,507.5 Q547,513.4 530,513.4 Q513,513.6 508,507.5 Z" stroke-width="1" fill="#fff"/>
<path d="M549.5,510 Q551,505 565,500 Q578,496 584,491.5 Q590,490 588.5,497.5 Q586,506 570,510 Q556,514 551,512.6 Q549,512 549.5,510 Z" stroke-width="1" fill="#fff"/>
<rect x="405.8" y="493.8" width="33" height="24.2" stroke-width="1.2"/>
<rect x="407.6" y="495.6" width="29.4" height="20.6" stroke-width="1"/>
<ellipse cx="422.4" cy="505.8" rx="10.2" ry="6.8" stroke-width="1.4"/>
<ellipse cx="422.4" cy="505.8" rx="6.6" ry="4.4" stroke-width="1.1"/>
<line x1="422.4" y1="499" x2="422.4" y2="512.6" stroke-width="0.9"/>
<line x1="412.2" y1="505.8" x2="432.6" y2="505.8" stroke-width="0.9"/>
<ellipse cx="422.4" cy="505.8" rx="1.6" ry="1.2" stroke-width="0.8" fill="#fff"/>
<line x1="409.8" y1="537.4" x2="420.6" y2="537.4" stroke-width="2" stroke="#666"/>
<line x1="409.8" y1="565.2" x2="420.6" y2="565.2" stroke-width="1.6" stroke="#666"/>
<path d="M412.5,541 l5,2.5 l-4,3 l5,3 l-6,3 l5,3 l-4,3.5" stroke-width="0.6" stroke="#555"/>
<line x1="420.6" y1="538.8" x2="461.3" y2="538.8" stroke-width="1.3"/>
<path d="M461.3,538.8 A40.7 26.5 0 0 1 420.6,565.3" stroke-width="1"/>
<path d="M420.6,572.5 H432.8 Q441,566.6 450.6,566.6 Q461,566.6 468.2,572.5 H479.4 V592.6" stroke-width="1"/>
<ellipse cx="450.2" cy="581.6" rx="17.6" ry="10.4" stroke-width="1.6"/>
<ellipse cx="450.2" cy="581.6" rx="15" ry="8.6" stroke-width="0.8" stroke="#444"/>
<ellipse cx="450.2" cy="581.8" rx="1.6" ry="1.2" stroke-width="0.9"/>
<path d="M450.2,583.4 V590.4" stroke-width="2.2"/>
<path d="M444,589.8 H456.6 M445,588.4 L443,590.8 M455.4,588.4 L457.4,590.8" stroke-width="1.5"/>
<path d="M497.6,588.4 V575 Q497.6,559.4 510,559.4 Q522.6,559.4 522.6,575 V588.4 Z" stroke-width="1.2"/>
<path d="M500.4,576 Q501,562.6 510,562.6 Q519,562.6 519.8,576" stroke-width="1"/>
<rect x="500" y="576.6" width="20.2" height="10.4" rx="1.5" stroke-width="1"/>
<rect x="502.6" y="578.4" width="15" height="7" rx="1.5" stroke-width="0.8" stroke="#444"/>
<ellipse cx="510.2" cy="574.4" rx="2.8" ry="1.4" stroke-width="1" fill="#ccc"/>
<rect x="499" y="588" width="22.4" height="0.8" stroke-width="0.6"/>
<rect x="528.8" y="588" width="10.6" height="2.6" rx="1.2" stroke-width="0.9"/>
<line x1="534.2" y1="590.6" x2="534.2" y2="592.6" stroke-width="1"/>
<path d="M568.4,528.8 L571.8,533 L575.2,528.8 M571.8,533 V535.6" stroke-width="1"/>
<rect x="568.8" y="535.6" width="6" height="7.2" rx="2" stroke-width="1.2" fill="#888"/>
<path d="M567.6,546 Q571.8,549.6 576,546" stroke-width="0.8"/>
<path d="M565.2,548.4 Q571.8,553.6 578.4,548.4" stroke-width="0.8" stroke="#555"/>
<path d="M561.6,539 Q562,543.4 565.2,545.6 M582,539 Q581.6,543.4 578.4,545.6" stroke-width="0.8" stroke="#555"/>
<path d="M557.4,540 Q558,546 562,548.8 M586.2,540 Q585.6,546 581.6,548.8" stroke-width="0.8" stroke="#777"/>
<line x1="557.4" y1="572" x2="593.8" y2="572" stroke-width="1"/>
<line x1="557.4" y1="575.2" x2="593.8" y2="575.2" stroke-width="1"/>
<line x1="557.4" y1="578.1" x2="593.8" y2="578.1" stroke-width="1"/>
<line x1="557.4" y1="581" x2="593.8" y2="581" stroke-width="1"/>
<line x1="557.4" y1="572" x2="557.4" y2="581"/>
<line x1="593.8" y1="572" x2="593.8" y2="581"/>
<line x1="549.8" y1="581" x2="600.6" y2="581" stroke-width="0.9"/>
<path d="M549.8,581.4 L592,585.6 L600.6,592.6" stroke-width="0.9"/>
<rect x="413" y="602.6" width="113" height="20" stroke-width="1"/>
<line x1="413" y1="612.3" x2="526" y2="612.3" stroke-width="1.2"/>
<line x1="527.6" y1="600.6" x2="527.6" y2="624.6" stroke-width="1"/>
<ellipse cx="423.3" cy="608" rx="1.5" ry="4.2" stroke-width="1.15" transform="rotate(8 423.3 608)"/>
<ellipse cx="422.7" cy="616.6" rx="1.5" ry="4.2" stroke-width="1.15" transform="rotate(-8 422.7 616.6)"/>
<ellipse cx="426.9" cy="608" rx="1.5" ry="4.2" stroke-width="1.15" transform="rotate(8 426.9 608)"/>
<ellipse cx="426.3" cy="616.6" rx="1.5" ry="4.2" stroke-width="1.15" transform="rotate(-8 426.3 616.6)"/>
<line x1="421.4" y1="612.3" x2="428.6" y2="612.3" stroke-width="1.8"/>
<ellipse cx="435.3" cy="608" rx="1.5" ry="4.2" stroke-width="1.15" transform="rotate(8 435.3 608)"/>
<ellipse cx="434.7" cy="616.6" rx="1.5" ry="4.2" stroke-width="1.15" transform="rotate(-8 434.7 616.6)"/>
<ellipse cx="438.9" cy="608" rx="1.5" ry="4.2" stroke-width="1.15" transform="rotate(8 438.9 608)"/>
<ellipse cx="438.3" cy="616.6" rx="1.5" ry="4.2" stroke-width="1.15" transform="rotate(-8 438.3 616.6)"/>
<line x1="433.4" y1="612.3" x2="440.6" y2="612.3" stroke-width="1.8"/>
<ellipse cx="447.8" cy="608" rx="1.5" ry="4.2" stroke-width="1.15" transform="rotate(8 447.8 608)"/>
<ellipse cx="447.2" cy="616.6" rx="1.5" ry="4.2" stroke-width="1.15" transform="rotate(-8 447.2 616.6)"/>
<ellipse cx="451.4" cy="608" rx="1.5" ry="4.2" stroke-width="1.15" transform="rotate(8 451.4 608)"/>
<ellipse cx="450.8" cy="616.6" rx="1.5" ry="4.2" stroke-width="1.15" transform="rotate(-8 450.8 616.6)"/>
<line x1="445.9" y1="612.3" x2="453.1" y2="612.3" stroke-width="1.8"/>
<ellipse cx="460.8" cy="608" rx="1.5" ry="4.2" stroke-width="1.15" transform="rotate(8 460.8 608)"/>
<ellipse cx="460.2" cy="616.6" rx="1.5" ry="4.2" stroke-width="1.15" transform="rotate(-8 460.2 616.6)"/>
<ellipse cx="464.4" cy="608" rx="1.5" ry="4.2" stroke-width="1.15" transform="rotate(8 464.4 608)"/>
<ellipse cx="463.8" cy="616.6" rx="1.5" ry="4.2" stroke-width="1.15" transform="rotate(-8 463.8 616.6)"/>
<line x1="458.9" y1="612.3" x2="466.1" y2="612.3" stroke-width="1.8"/>
<ellipse cx="471.5" cy="608" rx="1.5" ry="4.2" stroke-width="1.15" transform="rotate(8 471.5 608)"/>
<ellipse cx="470.9" cy="616.6" rx="1.5" ry="4.2" stroke-width="1.15" transform="rotate(-8 470.9 616.6)"/>
<ellipse cx="475.1" cy="608" rx="1.5" ry="4.2" stroke-width="1.15" transform="rotate(8 475.1 608)"/>
<ellipse cx="474.5" cy="616.6" rx="1.5" ry="4.2" stroke-width="1.15" transform="rotate(-8 474.5 616.6)"/>
<line x1="469.6" y1="612.3" x2="476.8" y2="612.3" stroke-width="1.8"/>
<ellipse cx="483.9" cy="608" rx="1.5" ry="4.2" stroke-width="1.15" transform="rotate(8 483.9 608)"/>
<ellipse cx="483.3" cy="616.6" rx="1.5" ry="4.2" stroke-width="1.15" transform="rotate(-8 483.3 616.6)"/>
<ellipse cx="487.5" cy="608" rx="1.5" ry="4.2" stroke-width="1.15" transform="rotate(8 487.5 608)"/>
<ellipse cx="486.9" cy="616.6" rx="1.5" ry="4.2" stroke-width="1.15" transform="rotate(-8 486.9 616.6)"/>
<line x1="482" y1="612.3" x2="489.2" y2="612.3" stroke-width="1.8"/>
<ellipse cx="496.9" cy="608" rx="1.5" ry="4.2" stroke-width="1.15" transform="rotate(8 496.9 608)"/>
<ellipse cx="496.3" cy="616.6" rx="1.5" ry="4.2" stroke-width="1.15" transform="rotate(-8 496.3 616.6)"/>
<ellipse cx="500.5" cy="608" rx="1.5" ry="4.2" stroke-width="1.15" transform="rotate(8 500.5 608)"/>
<ellipse cx="499.9" cy="616.6" rx="1.5" ry="4.2" stroke-width="1.15" transform="rotate(-8 499.9 616.6)"/>
<line x1="495" y1="612.3" x2="502.2" y2="612.3" stroke-width="1.8"/>
<ellipse cx="509.6" cy="608" rx="1.5" ry="4.2" stroke-width="1.15" transform="rotate(8 509.6 608)"/>
<ellipse cx="509" cy="616.6" rx="1.5" ry="4.2" stroke-width="1.15" transform="rotate(-8 509 616.6)"/>
<ellipse cx="513.2" cy="608" rx="1.5" ry="4.2" stroke-width="1.15" transform="rotate(8 513.2 608)"/>
<ellipse cx="512.6" cy="616.6" rx="1.5" ry="4.2" stroke-width="1.15" transform="rotate(-8 512.6 616.6)"/>
<line x1="507.7" y1="612.3" x2="514.9" y2="612.3" stroke-width="1.8"/>
<path d="M351.3,569.5 L356,569.5" stroke-width="1"/>
<path d="M351.3,576.3 L358.6,576.3" stroke-width="1"/>
<line x1="356" y1="569.5" x2="356" y2="576.3" stroke-width="1"/>
<line x1="358.4" y1="569.5" x2="358.4" y2="576.3" stroke-width="1"/>
<line x1="358.6" y1="569.5" x2="409.8" y2="569.5" stroke-width="0.9" stroke="#777"/>
<line x1="401.4" y1="569.5" x2="401.4" y2="576.3" stroke-width="1"/>
<line x1="404.4" y1="569.5" x2="404.4" y2="576.3" stroke-width="1"/>
<line x1="359.7" y1="576.3" x2="359.7" y2="607" stroke-width="2.2"/>
<path d="M359.7,607 A42.2 30.7 0 0 0 401.9,576.3" stroke-width="1.1"/>
<path d="M363,571 l3,4 m0,-4 l-3,4 m9,-4.6 l2.4,3.6 l2,-2.6 l3.6,-0.4 l2.6,1 l2.4,-1.4 l4,3.4 m6,-2.6 l3,4 m0,-4 l-3,4" stroke-width="0.7" stroke="#555"/>
<rect x="351.3" y="728" width="30" height="47.5" stroke-width="1.1"/>
<line x1="352.8" y1="729.5" x2="379.8" y2="774" stroke-width="0.7"/>
<line x1="379.8" y1="729.5" x2="352.8" y2="774" stroke-width="0.7"/>
<rect x="352.8" y="729.5" width="27" height="44.5" stroke-width="0.7" stroke="#444"/>
<rect x="500.8" y="625.4" width="28.5" height="19.2" stroke-width="0.9"/>
<line x1="500.8" y1="642.8" x2="529.3" y2="642.8" stroke-width="0.8" stroke="#555"/>
<ellipse cx="515" cy="636" rx="5.5" ry="3.6" stroke-width="1.3"/>
<rect x="500.8" y="719.6" width="28.5" height="17.4" stroke-width="0.9"/>
<line x1="500.8" y1="735" x2="529.3" y2="735" stroke-width="0.8" stroke="#555"/>
<ellipse cx="515" cy="727.5" rx="5.5" ry="3.6" stroke-width="1.3"/>
<rect x="497.6" y="738.3" width="31.7" height="37.2" stroke-width="1"/>
<rect x="522.6" y="642" width="5.8" height="78.6" rx="2.5" stroke-width="1"/>
<path d="M421.4,647.4 H522.6 M421.4,715 H522.6" stroke-width="1"/>
<path d="M412.2,642 Q415,646 421.4,647.4 M412.2,720.4 Q415,716.6 421.4,715" stroke-width="1"/>
<path d="M412.2,642 V720.4 M414,643.6 V718.8" stroke-width="0.9"/>
<path d="M414,643.6 H482 M414,645.6 H482" stroke-width="0.7" stroke="#333"/>
<path d="M421.4,647.4 V715 M423.2,649.2 V713.2 M425,651 V711.6 M426.8,652.6 V710.4" stroke-width="0.8" stroke="#333"/>
<path d="M421.4,715 H506 M423.2,713.2 H500 M425,711.6 H496" stroke-width="0.8" stroke="#333"/>
<path d="M423.2,649.2 H478 M425,651 H474 M426.8,652.6 H471" stroke-width="0.8" stroke="#333"/>
<path d="M448.08,662.37h0.7 M468.36,658.02h0.7 M461.22,674.3h0.7 M431.6,682.16h0.7 M430.32,678.07h0.7 M432.33,659.03h0.7 M454.32,699.89h0.7 M435.68,666.39h0.7 M466.9,706.6h0.7 M463.78,676.02h0.7 M481.23,670.07h0.7 M436.94,660.54h0.7 M447.13,699.3h0.7 M439.21,686.28h0.7 M467.61,674.67h0.7 M461.96,657.48h0.7 M431.7,665.43h0.7 M470.18,677.73h0.7 M447.48,686.5h0.7 M456.1,670.64h0.7 M477.25,692.79h0.7 M443.13,685.88h0.7 M460.56,702.57h0.7 M473.23,669.98h0.7 M453.92,696.02h0.7 M437.42,681.14h0.7 M430.43,691.09h0.7 M475.4,685.8h0.7 M464.85,686.18h0.7 M456.28,700.62h0.7 M431.76,692.93h0.7 M468.12,709.12h0.7 M478.96,669.8h0.7 M451.92,691.11h0.7 M429.4,679.62h0.7 M438.42,660.5h0.7 M431.66,696.64h0.7 M436.02,667.74h0.7 M452.24,702.36h0.7 M433,678.93h0.7 M462.07,703.03h0.7 M478.8,701.95h0.7 M445.26,677.05h0.7 M450.24,703.07h0.7 M438.93,666.87h0.7 M442.47,680.92h0.7 M464.53,668.58h0.7 M428.25,677.25h0.7 M450.89,685.43h0.7 M466.29,691.53h0.7 M431.35,703.92h0.7 M476.36,702.54h0.7 M477.47,675.78h0.7 M452.74,659.75h0.7 M467.33,657.45h0.7 M432.18,665.59h0.7 M438.06,672.87h0.7 M431.26,654.01h0.7 M437.38,659.63h0.7 M450.54,655.42h0.7 M443.64,673.28h0.7 M450.58,660.82h0.7 M480.63,709.12h0.7 M456.89,680.85h0.7 M433.32,659.67h0.7 M449.24,668.69h0.7 M429.43,706.78h0.7 M460.75,662.14h0.7 M461.68,655.5h0.7 M460.74,708.31h0.7 M481.53,692.64h0.7 M444.19,674.35h0.7 M438.36,696.84h0.7 M461.02,697.24h0.7 M448.44,666.38h0.7 M478.31,708.66h0.7 M480.86,698.74h0.7 M478.74,695.06h0.7 M442.06,682.73h0.7 M450.04,655.61h0.7 M429.73,669.51h0.7 M444.07,692.43h0.7 M487.3,678.82h0.7 M489.26,707h0.7 M450.61,666.24h0.7 M442.06,664.92h0.7 M440.67,688.64h0.7 M468.48,698.38h0.7 M433.26,690.66h0.7 M457.64,663.91h0.7 M476.93,672.45h0.7 M477.65,707.93h0.7 M452.54,676.28h0.7 M435.88,662.39h0.7 M479.24,708.41h0.7 M468.75,673.45h0.7 M462.02,661.27h0.7 M428.88,707.88h0.7 M468.28,683.23h0.7 M485.88,678.08h0.7 M479.22,665.71h0.7 M443.61,670.26h0.7 M442.91,686.55h0.7 M444.08,677.26h0.7 M436.13,704.51h0.7 M449.93,679.43h0.7 M464.17,704.19h0.7 M454.08,704.93h0.7 M459.1,683.52h0.7 M460.46,655.04h0.7 M455.29,664.16h0.7 M428.24,698.35h0.7 M438.69,680.28h0.7 M472.96,684.88h0.7 M448.21,682.77h0.7 M462.44,697.53h0.7 M434.58,685.1h0.7 M443.41,669.37h0.7 M475.88,682.18h0.7 M462.83,696.18h0.7 M459.34,682.42h0.7 M470.95,679.11h0.7 M461.06,680.53h0.7 M486.37,692.81h0.7 M462.69,706.35h0.7 M435.54,678.54h0.7 M432.5,667.36h0.7 M432.53,691.16h0.7 M476.6,703.78h0.7 M437.58,693.74h0.7 M468.94,661.94h0.7 M482.74,707.7h0.7 M441.61,706.86h0.7 M452.69,681.04h0.7 M454.75,682.62h0.7 M449.03,664.86h0.7 M447.75,694.08h0.7 M429.21,684.75h0.7 M455.31,655h0.7 M448.55,688.63h0.7 M459.76,657.57h0.7 M489.08,697.75h0.7 M434.5,668.74h0.7 M430.45,697.23h0.7 M444.77,661.19h0.7 M454.18,704.58h0.7 M478.78,668.35h0.7 M437.26,705.01h0.7 M463.38,692.87h0.7 M433.55,657.19h0.7 M470.67,677.61h0.7 M432.49,706.08h0.7 M467.34,698.49h0.7 M433.19,701.52h0.7 M432.13,701.88h0.7 M456.13,672.82h0.7 M462.29,705.43h0.7 M444.61,661.17h0.7 M460.67,667.23h0.7 M434.79,662.96h0.7 M431.12,665.2h0.7 M447.34,670.93h0.7 M475.09,670.09h0.7 M459.01,663.87h0.7 M449.51,655.01h0.7 M443.53,654.85h0.7 M473.45,684.58h0.7 M439.75,680.35h0.7 M478.77,677.99h0.7 M458.69,700.32h0.7 M452.37,682.12h0.7 M470.64,708.53h0.7 M449.25,700.19h0.7 M471.82,689.3h0.7 M453.09,673.29h0.7 M431.37,661.2h0.7 M432.38,695.12h0.7 M443.85,663.06h0.7 M433.24,700.69h0.7 M481.97,691.22h0.7 M445.48,667.44h0.7 M446.17,679.5h0.7 M437.77,678.74h0.7 M444.32,707.38h0.7 M450.11,654.06h0.7 M451.66,680.34h0.7 M459.17,665.15h0.7 M459.29,654.27h0.7 M444.38,658.98h0.7 M452.77,656.31h0.7 M429.39,670.89h0.7 M442.43,686.5h0.7 M460.81,695.66h0.7 M468.77,693.74h0.7 M472.9,689.7h0.7 M430.71,700.36h0.7 M460.47,681.99h0.7 M479.77,698.66h0.7 M479.24,686.42h0.7 M442.26,655.73h0.7 M436.25,674.02h0.7 M434.5,700.39h0.7 M462.63,688.84h0.7 M466.83,691.78h0.7 M458.34,654.18h0.7 M477.46,695.53h0.7 M459.18,683.7h0.7 M468.88,657.67h0.7 M473.68,668h0.7 M432.62,668.74h0.7 M473.22,665.39h0.7 M473.87,708.15h0.7 M458.62,675.23h0.7 M457.7,691.95h0.7 M475.55,688.24h0.7 M467.85,658.3h0.7 M437.14,668.09h0.7 M474.08,670.9h0.7 M463.2,654.69h0.7 M431.76,668.92h0.7 M469.66,692.42h0.7 M469.89,670.14h0.7 M460.03,679.79h0.7 M456.91,660.58h0.7 M456.46,699.5h0.7 M441.01,706.48h0.7 M441.06,686.27h0.7 M436.79,683.09h0.7 M478.85,682.24h0.7 M428.22,681.29h0.7 M455.95,670.76h0.7 M436.72,673.09h0.7 M447.6,700.63h0.7 M428.11,695.67h0.7 M485.44,693.57h0.7 M445.97,674.66h0.7 M452.36,709.43h0.7 M464.53,674.02h0.7 M454.54,669.27h0.7 M430.99,659.64h0.7 M479.75,669.85h0.7 M444.48,682.36h0.7 M439.77,674.72h0.7 M487.28,703.08h0.7 M467.12,704.7h0.7 M431.07,694.65h0.7 M455.95,695.77h0.7 M467.96,669.88h0.7 M431.04,705.44h0.7 M435.89,680.21h0.7 M449.31,670.53h0.7 M473.82,708.18h0.7 M444.13,690.41h0.7 M446.65,684.93h0.7 M452.45,663.29h0.7 M438.02,665.54h0.7 M484.19,709.3h0.7 M455.9,661.75h0.7 M439.93,659.03h0.7 M449.2,659.06h0.7 M442.83,668.34h0.7 M463.32,703.24h0.7 M474.48,676.91h0.7 M453.66,683.09h0.7 M451.37,672.77h0.7 M431.85,669.4h0.7 M459.21,688.94h0.7 M444.8,667.79h0.7 M452.78,678.75h0.7 M487.14,701.1h0.7 M429.35,655.79h0.7 M471.99,703.71h0.7 M457.34,686.59h0.7 M428.01,675.73h0.7 M485.46,699.82h0.7 M434.76,662.57h0.7 M460.39,691.86h0.7 M475.42,679.38h0.7 M462.19,656.19h0.7 M476.5,666.91h0.7 M435.93,667.97h0.7 M467.45,692.77h0.7 M434.95,657.9h0.7 M460.52,686.35h0.7 M452.06,666.41h0.7 M465.27,654.58h0.7 M446.69,679.57h0.7 M487.45,689.77h0.7 M457.47,667.03h0.7 M443.32,707.31h0.7 M471.69,671.06h0.7 M429.35,681.66h0.7 M469.82,677.31h0.7 M443.95,691.04h0.7 M430.11,672.76h0.7 M454.07,691.88h0.7 M440.28,698.24h0.7 M473.83,682.02h0.7 M440.72,707.83h0.7 M447.33,699.51h0.7 M442.31,666.29h0.7 M475.15,670.37h0.7 M441.85,677.15h0.7 M469.25,706.66h0.7 M437.08,675.84h0.7 M441.2,708.06h0.7 M436.8,656.88h0.7 M431.73,675.83h0.7 M439.5,705.94h0.7 M469.19,675.01h0.7 M451.18,672.41h0.7 M438.49,654.16h0.7 M445.35,673.51h0.7 M450.11,699.6h0.7 M478.96,678h0.7 M431.05,680.28h0.7 M451.11,705.03h0.7 M439.97,674.22h0.7 M453.47,699.06h0.7 M430.16,657.47h0.7 M474.33,703.87h0.7 M449.02,669.11h0.7 M472.43,671.56h0.7 M445.09,654.21h0.7 M474.85,704.86h0.7 M467.31,706.35h0.7 M429.5,666.98h0.7 M457.46,707.1h0.7 M454.66,681.39h0.7 M477.76,694.99h0.7 M479.01,696.89h0.7 M465.65,672.19h0.7 M447.81,674.08h0.7 M440.23,695.79h0.7 M443.33,657.59h0.7 M430.1,684.67h0.7 M448.2,708.4h0.7 M482.78,708.82h0.7 M444.42,658.67h0.7 M433.98,681.67h0.7 M472.01,678.81h0.7 M442.52,677.13h0.7 M466.46,691.41h0.7 M474.37,701.01h0.7 M469.19,660.72h0.7 M480.13,670.3h0.7 M463.15,674.7h0.7 M473.76,665.06h0.7 M443.34,667.62h0.7 M437.51,703.07h0.7 M463.85,672.11h0.7 M452.56,709.08h0.7 M459.45,666.84h0.7 M478.12,690.26h0.7 M457.44,699.46h0.7 M480.11,704.75h0.7 M430.5,670.3h0.7 M435.39,664.52h0.7 M488.32,686.37h0.7 M451.08,702.07h0.7 M455.85,668.43h0.7 M476.22,706.49h0.7 M434.56,687.09h0.7 M466.44,666.08h0.7 M450.86,661.85h0.7 M440.65,668.15h0.7" stroke="#777" stroke-width="0.7"/>
<path d="M469.6,654.8 Q476,648 482.6,645 Q490,655 491.6,669.6 Q480,664 469.6,654.8 Z" stroke-width="0.9" fill="#fff"/>
<path d="M482.6,645 Q488,647 489.4,650 Q493,660 494,668" stroke-width="0.8"/>
<path d="M498.8,651.6 L521,647.8 L521.4,680.6 L512,676 L501.6,668 Z" stroke-width="1.7" stroke="#222" fill="#fff" stroke-dasharray="1.3 0.7"/>
<path d="M498.8,711.4 L521,714.8 L521.4,681.6 L512,690 L501.6,703.6 Z" stroke-width="1.7" stroke="#222" fill="#fff" stroke-dasharray="1.3 0.7"/>
<path d="M521.4,649 Q524.6,665 521.6,681 Q524.6,697 521.4,713.6" stroke-width="1.6" stroke="#333" stroke-dasharray="1.3 0.7"/>
<pattern id="lc" width="2.2" height="2.2" patternUnits="userSpaceOnUse"><rect width="2.2" height="2.2" fill="#222" stroke="none"/><circle cx="1.1" cy="1.1" r="0.92" fill="#fff" stroke="none"/></pattern>
<g transform="translate(503.8,674) rotate(-22)">
<rect x="-4.5" y="-5.5" width="9" height="11" rx="1" stroke-width="1.1" stroke="#222" fill="#fff"/>
</g>
<g transform="translate(491.6,675.8) rotate(-24)">
<rect x="-8" y="-4.5" width="16" height="9" rx="1" stroke-width="1.1" stroke="#222" fill="#fff"/>
<rect x="-6.5" y="-3" width="13" height="6" stroke-width="0.6" stroke="#222" fill="url(#lc)"/>
</g>
<g transform="translate(492.4,700) rotate(24)">
<rect x="-5.5" y="-5" width="11" height="10" rx="1" stroke-width="1.1" stroke="#222" fill="#fff"/>
</g>
<g transform="translate(490.6,688.8) rotate(-22)">
<rect x="-8" y="-4.75" width="16" height="9.5" rx="1" stroke-width="1.1" stroke="#222" fill="#fff"/>
<rect x="-6.5" y="-3.25" width="13" height="6.5" stroke-width="0.6" stroke="#222" fill="url(#lc)"/>
</g>
<g transform="translate(505.6,696.6) rotate(22)">
<rect x="-7.5" y="-5.25" width="15" height="10.5" rx="1" stroke-width="1.1" stroke="#222" fill="#fff"/>
<rect x="-6" y="-3.75" width="12" height="7.5" stroke-width="0.6" stroke="#222" fill="url(#lc)"/>
</g>
<ellipse cx="431.4" cy="632" rx="5" ry="2.3" stroke-width="0.9" transform="rotate(-60 431.4 632)"/>
<ellipse cx="431.4" cy="632" rx="3.2" ry="1.2" stroke-width="0.6" stroke="#666" transform="rotate(-60 431.4 632)"/>
<ellipse cx="425.6" cy="639.2" rx="5" ry="2.3" stroke-width="0.9" transform="rotate(-15 425.6 639.2)"/>
<ellipse cx="425.6" cy="639.2" rx="3.2" ry="1.2" stroke-width="0.6" stroke="#666" transform="rotate(-15 425.6 639.2)"/>
<ellipse cx="433.2" cy="723.8" rx="5" ry="2.3" stroke-width="0.9" transform="rotate(-15 433.2 723.8)"/>
<ellipse cx="433.2" cy="723.8" rx="3.2" ry="1.2" stroke-width="0.6" stroke="#666" transform="rotate(-15 433.2 723.8)"/>
<ellipse cx="443.3" cy="727.8" rx="5" ry="2.3" stroke-width="0.9" transform="rotate(-55 443.3 727.8)"/>
<ellipse cx="443.3" cy="727.8" rx="3.2" ry="1.2" stroke-width="0.6" stroke="#666" transform="rotate(-55 443.3 727.8)"/>
<g transform="rotate(14 478.6 754.4)">
<path d="M469,744.6 Q461.4,754 469,764.4" stroke-width="1"/>
<path d="M471.2,744 Q464,754 471.2,765" stroke-width="1"/>
<path d="M469,744.6 L474,745.6 M469,764.4 L474,763.2" stroke-width="0.9"/>
<rect x="474" y="745.6" width="18.6" height="17.6" rx="2.2" stroke-width="1.3"/>
<rect x="475.8" y="747.2" width="15" height="14.4" rx="1.5" stroke-width="0.7" stroke="#555"/>
<ellipse cx="479.6" cy="750.6" rx="1" ry="0.9" stroke-width="0.4" fill="#000"/>
<ellipse cx="487" cy="750.6" rx="1" ry="0.9" stroke-width="0.4" fill="#000"/>
<ellipse cx="479.6" cy="758.2" rx="1" ry="0.9" stroke-width="0.4" fill="#000"/>
<ellipse cx="487" cy="758.2" rx="1" ry="0.9" stroke-width="0.4" fill="#000"/>
</g>
<ellipse cx="671.2" cy="444" rx="17.3" ry="11.4" stroke-width="2"/>
<g>
<path d="M647.9,408.6 L680.6,403.8 Q688,405.6 691.4,415 Q690.4,419.6 685.8,421.6 L660.8,431.2 L647.9,408.6 Z" stroke-width="1.2"/>
<path d="M650,409.6 L678,405.6 M662,429.4 L684.6,420.6" stroke-width="0.7" stroke="#444"/>
<path d="M674.6,405 Q682,412 679.4,423.6" stroke-width="0.9"/>
<path d="M678.4,404.4 Q686,411 683.4,422.4" stroke-width="0.9"/>
</g>
<g transform="translate(0,890.6) scale(1,-1)">
<path d="M647.9,408.6 L680.6,403.8 Q688,405.6 691.4,415 Q690.4,419.6 685.8,421.6 L660.8,431.2 L647.9,408.6 Z" stroke-width="1.2"/>
<path d="M650,409.6 L678,405.6 M662,429.4 L684.6,420.6" stroke-width="0.7" stroke="#444"/>
<path d="M674.6,405 Q682,412 679.4,423.6" stroke-width="0.9"/>
<path d="M678.4,404.4 Q686,411 683.4,422.4" stroke-width="0.9"/>
</g>
<path d="M620.2,515.2 q1.3,-3.6 2.6,0 q1.3,3.6 2.6,0 q1.3,-3.6 2.6,0 q1.3,3.6 2.6,0 q1.3,-3.6 2.6,0 q1.2,2.6 2.4,0.4 H648" stroke-width="1.1"/>
<path d="M701.8,374.2 q-3.4,1.3 0,2.6 q3.4,1.3 0,2.6 q-3.4,1.3 0,2.6 q3.4,1.3 0,2.6 V392.4" stroke-width="1.1"/>
<path d="M699.4,375.5 h4.4 M699.4,378.1 h4.4 M699.4,380.7 h4.4 M699.4,383.3 h4.4" stroke-width="0.8"/>
</g>
<g id="cjk" stroke-linecap="butt" stroke-linejoin="miter">
<path d="M157.44,739.86 L157.44,756.24 M161.9,748.05 L157.44,748.05 M157.44,747.27 L152.98,744.15 L150.5,739.08 M157.44,748.83 L152.98,751.95 L150.5,757.02 M152.48,744.93 L143.06,744.93 M151.49,744.93 L151.49,753.51 M148.76,744.93 L148.76,753.51 M146.03,744.93 L146.03,753.51 M143.06,739.47 L143.06,756.63 M143.06,746.49 L138.84,742.98 L140.08,752.34 M142.06,751.17 L138.1,754.29" stroke-width="2.9" stroke="#000"/>
<path d="M138.1,762.13 L155.95,762.13 L155.95,773.07 L138.59,773.07 L139.58,770.94 M161.9,767.6 L151.98,767.6 M151.98,767.6 L143.55,763.65 M150.99,767.6 L144.05,771.55" stroke-width="2.9" stroke="#000"/>
<path d="M160.42,778.48 L160.42,794.12 M160.42,786.3 L155.95,785.28 M155.95,779.84 L155.95,792.76 L138.59,792.76 L138.59,779.84 L155.95,779.84 M155.95,784.26 L138.59,784.26 M155.95,788.34 L138.59,788.34 M150.5,784.26 L150.5,788.34 M144.54,784.26 L144.54,788.34" stroke-width="2.9" stroke="#000"/>
<path d="M161.16,802.8 L158.93,797.62 M154.46,796.49 L154.46,804.1 M159.92,800.37 L138.1,800.37 M153.47,800.37 L145.54,796.49 M153.47,800.37 L148.02,803.78 M159.42,805.4 L159.42,811.39 L148.51,811.39 L148.51,805.4 L159.42,805.4 M146.53,807.02 L138.59,804.75 M146.53,809.61 L138.59,811.88" stroke-width="2.9" stroke="#000"/>
<path d="M159.92,835.1 L159.92,845.5 M156.45,837.18 L150.99,838.48 M156.45,843.42 L150.99,842.12 M148.51,834.06 L148.51,846.54 M159.92,840.3 L138.1,840.3" stroke-width="2.9" stroke="#000"/>
<path d="M162.4,856.4 L157.94,856.4 M156.94,849.41 L156.94,863.39 M156.94,855.49 L147.52,854.88 L138.34,850.32 M150.5,855.18 L150.5,861.57 L140.08,861.57 L138.34,858.83" stroke-width="2.9" stroke="#000"/>
<path d="M145.56,820.86 L143.61,820.69 L141.86,820.2 L140.47,819.43 L139.57,818.47 L139.26,817.4 L139.57,816.33 L140.47,815.37 L141.86,814.6 L143.61,814.11 L145.56,813.94 L147.5,814.11 L149.25,814.6 L150.65,815.37 L151.54,816.33 L151.85,817.4 L151.54,818.47 L150.65,819.43 L149.25,820.2 L147.5,820.69 L145.56,820.86 M160,820.28 L159.61,819.21 L158.98,818.24 L158.11,817.37 L157.02,816.59 L155.69,815.91 L154.13,815.33 L152.34,814.84 L150.31,814.44 L148.05,814.15 L145.56,813.94" stroke-width="2.8" stroke="#000"/>
<path d="M145.56,831.03 L143.61,830.86 L141.86,830.35 L140.47,829.57 L139.57,828.59 L139.26,827.5 L139.57,826.41 L140.47,825.43 L141.86,824.65 L143.61,824.14 L145.56,823.97 L147.5,824.14 L149.25,824.65 L150.65,825.43 L151.54,826.41 L151.85,827.5 L151.54,828.59 L150.65,829.57 L149.25,830.35 L147.5,830.86 L145.56,831.03 M160,830.44 L159.61,829.35 L158.98,828.36 L158.11,827.47 L157.02,826.68 L155.69,825.98 L154.13,825.38 L152.34,824.88 L150.31,824.48 L148.05,824.18 L145.56,823.97" stroke-width="2.8" stroke="#000"/>
<path d="M81.25,60.22 L74.86,57.85 M76.36,58.64 L76.36,67.88 M81.25,62.6 L64.52,62.6 M70.72,58.64 L70.72,67.22 M64.52,56.53 L64.52,68.67" stroke-width="3.3" stroke="#000"/>
<path d="M80.12,71.9 L77.86,74.17 M74.86,71.65 L72.6,73.67 M64.14,72.03 L69.59,74.42 M80.87,82.49 L79.18,76.44 M75.23,75.43 L75.23,83.75 M79.74,79.46 L71.1,79.46 M71.1,76.69 L71.1,82.74 L64.14,82.74 L64.14,76.69 L71.1,76.69" stroke-width="3.3" stroke="#000"/>
<path d="M82,92.5 L79.74,92.5 M75.98,87.21 L79.37,87.21 L79.37,97.79 L75.98,97.79 M74.86,88.97 L74.86,96.28 M74.86,93 L71.85,89.73 M73.35,91.49 L68.46,93.26 L63.95,92.75 L65.08,90.74 M71.47,92.5 L68.09,87.71 M68.84,93 L64.14,87.46 M73.35,97.29 L70.72,93.76 M70.34,93.76 L64.52,98.3" stroke-width="3.3" stroke="#000"/>
<path d="M82,106.8 L79.74,106.8 M75.98,101.59 L79.37,101.59 L79.37,112.01 L75.98,112.01 M74.86,103.33 L74.86,110.52 M74.86,107.3 L71.85,104.07 M73.35,105.81 L68.46,107.54 L63.95,107.05 L65.08,105.06 M71.47,106.8 L68.09,102.09 M68.84,107.3 L64.14,101.84 M73.35,111.51 L70.72,108.04 M70.34,108.04 L64.52,112.5" stroke-width="3.3" stroke="#000"/>
<path d="M80.5,117.3 L80.5,127.8 L76.36,127.8 L76.36,117.3 M81.25,117.3 L71.66,117.3 L63.95,115.76 M72.6,119.12 L72.6,128.64 M75.61,123.6 L69.22,123.6 M69.22,120.1 L69.22,127.52 L64.14,127.52 L64.14,120.1 L69.22,120.1" stroke-width="3.3" stroke="#000"/>
<path d="M55.62,72.99 L55.62,76.71 L49.22,76.71 L49.22,72.99 L55.62,72.99 M52.5,72.99 L52.5,76.71 M55.62,74.85 L49.22,74.85" stroke-width="2.125" stroke="#000"/>
<path d="M55.62,77.79 L55.62,81.71 M52.5,78.07 L52.5,81.43 M49.22,77.61 L49.22,81.89 M55.62,79.75 L49.22,79.75 M54.22,78.59 L54.22,80.91 M50.78,78.59 L50.78,80.91" stroke-width="2.125" stroke="#000"/>
<path d="M55.62,82.69 L55.62,86.61 M52.5,82.97 L52.5,86.33 M49.22,82.51 L49.22,86.79 M55.62,84.65 L49.22,84.65 M54.22,83.49 L54.22,85.81 M50.78,83.49 L50.78,85.81" stroke-width="2.125" stroke="#000"/>
<path d="M55.62,87.69 L55.62,91.41 L49.22,91.41 L49.22,87.69 L55.62,87.69 M52.5,87.69 L52.5,91.41 M55.62,89.55 L49.22,89.55" stroke-width="2.125" stroke="#000"/>
<path d="M55.78,93.05 L49.22,93.05 M53.44,92.26 L53.44,93.98 M49.38,92.26 L50.63,93.98 M56.01,95.38 L48.99,95.38 M54.22,94.26 L54.22,96.59 M51.72,94.26 L51.72,96.59 M49.22,94.26 L49.22,96.59" stroke-width="2.125" stroke="#000"/>
<path d="M55.62,97.39 L55.62,101.31 M52.5,97.67 L52.5,101.03 M49.22,97.21 L49.22,101.49 M55.62,99.35 L49.22,99.35 M54.22,98.19 L54.22,100.51 M50.78,98.19 L50.78,100.51" stroke-width="2.125" stroke="#000"/>
<path d="M54.06,102.11 L54.06,106.39 M56.09,104.25 L48.91,104.25 M53.75,104.25 L49.69,102.29 M53.75,104.25 L49.69,106.21 M51.72,102.85 L51.72,105.65" stroke-width="2.125" stroke="#000"/>
<path d="M56.4,109.15 L55.31,109.15 M54.06,107.1 L55.15,107.1 L55.15,111.2 L54.06,111.2 M53.12,107.75 L53.12,110.55 M51.56,107.75 L51.56,110.55 M49.38,107.06 L49.38,111.24 M53.12,109.15 L49.38,109.15" stroke-width="2.125" stroke="#000"/>
<path d="M54.48,566.08 L54.48,573.14 M54.48,566.08 L47.82,566.08 L43.21,565.42 M54.22,569.85 L52.43,569.36 M52.43,567.72 L52.43,572.23 L48.08,572.23 L48.08,567.72 L52.43,567.72 M50.25,567.72 L50.25,572.23 M48.08,569.93 L43.21,569.93 L43.98,569.03 M46.8,568.54 L43.98,567.23 M46.8,571.33 L43.98,572.81" stroke-width="1.9" stroke="#000"/>
<path d="M54.99,576.51 L48.46,575.2 L43.98,577.82 M51.66,577.66 L43.21,574.87 M50.89,574.54 L50.89,578.15 M54.99,580.29 L50.12,578.64 L50.89,582.26 M52.94,581.27 L49.87,582.42 M48.33,578.89 L48.33,582.01 L43.34,582.01 L43.34,578.89 L48.33,578.89" stroke-width="1.9" stroke="#000"/>
<path d="M54.99,585.96 L51.66,584.32 L51.66,586.12 L47.82,584.15 L48.46,586.78 M43.98,583.82 L45.52,586.78 M52.94,587.19 L52.94,591.54 M54.99,589.41 L49.74,589.41 M49.74,587.6 L49.74,591.21 M47.82,587.76 L47.82,591.05 L43.34,591.05 L43.34,587.76 L47.82,587.76" stroke-width="1.9" stroke="#000"/>
<path d="M51.92,592.78 L51.92,596.06 M54.99,594.42 L43.21,594.42 M51.4,594.42 L47.05,592.86 M51.4,594.42 L48.33,595.9 M54.99,597.7 L50.89,596.39 M52.94,597.13 L52.94,600.41 L44.49,600.41 L43.21,599.18 M51.15,598.53 L46.28,597.38 L47.05,599.51 M48.84,599.02 L46.03,599.67" stroke-width="1.9" stroke="#000"/>
<path d="M54.73,602.39 L54.73,609.29 L43.34,609.29 L43.34,602.39 L54.73,602.39 M53.71,605.51 L49.61,603.71 M52.3,605.02 L52.3,607.48 L47.31,604.03 M50.89,605.18 L47.56,607.97 M47.05,605.35 L46.28,606.82 M45.26,604.86 L44.36,606.82" stroke-width="1.9" stroke="#000"/>
<path d="M673.31,438.27 L673.31,443.43 M674.43,439.82 L672.19,439.82 M674.43,441.88 L672.19,441.88 M672.28,440.85 L669.61,438.33 M672.28,440.85 L669.61,443.37 M669.27,439.42 L669.27,442.28 M670.3,440.85 L666.17,440.85 M668.41,440.28 L666.69,439.02 M668.41,441.42 L666.69,442.68" stroke-width="1.4" stroke="#000"/>
<path d="M674.43,446.95 L670.99,445.23 L671.33,449.01 M672.88,448.1 L670.64,449.36 M669.78,445.12 L669.78,448.78 L666.43,448.78 L666.43,445.12 L669.78,445.12" stroke-width="1.4" stroke="#000"/>
<path d="M340.55,209.11 L340.55,212.29 M337.95,209.34 L337.95,212.06 M335.22,208.96 L335.22,212.44 M340.55,210.7 L335.22,210.7 M339.38,209.75 L339.38,211.65 M336.52,209.75 L336.52,211.65" stroke-width="0.9100000000000001" stroke="#000"/>
<path d="M340.42,213.39 L340.42,216.49 M340.42,213.46 L335.02,213.46 M338.6,214.14 L338.6,216.49 M336.91,214.14 L336.91,216.49 M338.6,215.28 L335.02,215.28 M335.22,214.14 L335.22,216.49" stroke-width="0.9100000000000001" stroke="#000"/>
<path d="M332.27,208.48 L332.27,211.47 M329.35,208.7 L329.35,211.26 M326.28,208.34 L326.28,211.62 M332.27,209.98 L326.28,209.98 M330.96,209.09 L330.96,210.87 M327.74,209.09 L327.74,210.87" stroke-width="0.8400000000000001" stroke="#000"/>
<path d="M332.12,212.51 L332.12,215.43 M332.12,212.58 L326.06,212.58 M330.08,213.22 L330.08,215.43 M328.18,213.22 L328.18,215.43 M330.08,214.29 L326.06,214.29 M326.28,213.22 L326.28,215.43" stroke-width="0.8400000000000001" stroke="#000"/>
<path d="M330.81,216.25 L330.81,219.53 M332.71,217.89 L325.99,217.89 M330.52,217.89 L326.72,216.39 M330.52,217.89 L326.72,219.38 M328.62,216.82 L328.62,218.96" stroke-width="0.8400000000000001" stroke="#000"/>
<path d="M332.42,220.78 L326.28,220.78 M330.23,220.17 L330.23,221.49 M326.43,220.17 L327.6,221.49 M332.63,222.56 L326.06,222.56 M330.96,221.7 L330.96,223.48 M328.62,221.7 L328.62,223.48 M326.28,221.7 L326.28,223.48" stroke-width="0.8400000000000001" stroke="#000"/>
<path d="M332.27,224.3 L332.27,227.3 M329.35,224.52 L329.35,227.08 M326.28,224.16 L326.28,227.44 M332.27,225.8 L326.28,225.8 M330.96,224.91 L330.96,226.69 M327.74,224.91 L327.74,226.69" stroke-width="0.8400000000000001" stroke="#000"/>
<path d="M332.27,228.33 L332.27,231.18 L326.28,231.18 L326.28,228.33 L332.27,228.33 M329.35,228.33 L329.35,231.18 M332.27,229.76 L326.28,229.76" stroke-width="0.8400000000000001" stroke="#000"/>
<path d="M332.27,232.29 L332.27,235.14 L326.28,235.14 L326.28,232.29 L332.27,232.29 M329.35,232.29 L329.35,235.14 M332.27,233.71 L326.28,233.71" stroke-width="0.8400000000000001" stroke="#000"/>
<path d="M333,237.67 L331.98,237.67 M330.81,236.1 L331.83,236.1 L331.83,239.23 L330.81,239.23 M329.93,236.6 L329.93,238.73 M328.47,236.6 L328.47,238.73 M326.43,236.06 L326.43,239.27 M329.93,237.67 L326.43,237.67" stroke-width="0.8400000000000001" stroke="#000"/>
<path d="M330.81,239.98 L330.81,243.26 M332.71,241.62 L325.99,241.62 M330.52,241.62 L326.72,240.13 M330.52,241.62 L326.72,243.12 M328.62,240.55 L328.62,242.69" stroke-width="0.8400000000000001" stroke="#000"/>
<path d="M362.95,181.01 L362.95,183.53 M360.35,181.19 L360.35,183.35 M357.62,180.89 L357.62,183.65 M362.95,182.27 L357.62,182.27 M361.78,181.52 L361.78,183.02 M358.92,181.52 L358.92,183.02" stroke-width="0.98" stroke="#000"/>
<path d="M362.95,184.34 L362.95,186.86 M360.35,184.52 L360.35,186.68 M357.62,184.22 L357.62,186.98 M362.95,185.6 L357.62,185.6 M361.78,184.85 L361.78,186.35 M358.92,184.85 L358.92,186.35" stroke-width="0.98" stroke="#000"/>
<path d="M361.65,187.55 L361.65,190.31 M363.34,188.93 L357.36,188.93 M361.39,188.93 L358.01,187.67 M361.39,188.93 L358.01,190.19 M359.7,188.03 L359.7,189.83" stroke-width="0.98" stroke="#000"/>
<path d="M302.93,250.71 L302.93,253.69 M304.72,252.2 L298.38,252.2 M302.65,252.2 L299.07,250.84 M302.65,252.2 L299.07,253.56 M300.86,251.23 L300.86,253.17" stroke-width="1.2600000000000002" stroke="#000"/>
<path d="M305,255.8 L304.03,255.8 M302.93,254.37 L303.9,254.37 L303.9,257.23 L302.93,257.23 M302.1,254.83 L302.1,256.77 M300.72,254.83 L300.72,256.77 M298.79,254.34 L298.79,257.26 M302.1,255.8 L298.79,255.8" stroke-width="1.2600000000000002" stroke="#000"/>
<path d="M303.77,270.3 L303.77,273.9 L298.6,273.9 L298.6,270.3 L303.77,270.3 M301.25,270.3 L301.25,273.9 M303.77,272.1 L298.6,272.1" stroke-width="1.2600000000000002" stroke="#000"/>
<path d="M361.29,262.95 L361.29,265.75 L357.11,265.75 L357.11,262.95 L361.29,262.95 M359.25,262.95 L359.25,265.75 M361.29,264.35 L357.11,264.35" stroke-width="1.2600000000000002" stroke="#000"/>
<path d="M361.8,268.25 L361.09,268.25 M360.27,266.71 L360.98,266.71 L360.98,269.79 L360.27,269.79 M359.66,267.2 L359.66,269.3 M358.64,267.2 L358.64,269.3 M357.21,266.67 L357.21,269.83 M359.66,268.25 L357.21,268.25" stroke-width="1.2600000000000002" stroke="#000"/>
<path d="M361.29,270.75 L361.29,273.55 L357.11,273.55 L357.11,270.75 L361.29,270.75 M359.25,270.75 L359.25,273.55 M361.29,272.15 L357.11,272.15" stroke-width="1.2600000000000002" stroke="#000"/>
<path d="M361.29,274.58 L361.29,277.52 M359.25,274.79 L359.25,277.31 M357.11,274.44 L357.11,277.66 M361.29,276.05 L357.11,276.05 M360.37,275.17 L360.37,276.93 M358.13,275.17 L358.13,276.93" stroke-width="1.2600000000000002" stroke="#000"/>
<path d="M363.4,264 L367.6,262.6 L368.4,266.6 L365.8,266 L366,269 L363.6,268.6 Z" stroke-width="0.6" fill="#000"/>
<path d="M541.21,313.03 L541.21,317.17 M543.11,315.1 L536.39,315.1 M540.92,315.1 L537.12,313.21 M540.92,315.1 L537.12,316.99 M539.02,313.75 L539.02,316.45" stroke-width="1.2600000000000002" stroke="#000"/>
<path d="M543.4,320.1 L542.38,320.1 M541.21,318.12 L542.23,318.12 L542.23,322.08 L541.21,322.08 M540.33,318.75 L540.33,321.45 M538.87,318.75 L538.87,321.45 M536.83,318.08 L536.83,322.12 M540.33,320.1 L536.83,320.1" stroke-width="1.2600000000000002" stroke="#000"/>
<path d="M542.52,323.3 L542.52,326.99 M542.52,323.39 L536.47,323.39 M540.48,324.2 L540.48,326.99 M538.58,324.2 L538.58,326.99 M540.48,325.55 L536.47,325.55 M536.68,324.2 L536.68,326.99" stroke-width="1.2600000000000002" stroke="#000"/>
<path d="M533.4,314.78 L532.38,314.78 M531.21,313.05 L532.23,313.05 L532.23,316.51 L531.21,316.51 M530.33,313.6 L530.33,315.96 M528.87,313.6 L528.87,315.96 M526.83,313.01 L526.83,316.55 M530.33,314.78 L526.83,314.78" stroke-width="1.2600000000000002" stroke="#000"/>
<path d="M532.52,317.57 L532.52,320.79 M532.52,317.65 L526.47,317.65 M530.48,318.36 L530.48,320.79 M528.58,318.36 L528.58,320.79 M530.48,319.53 L526.47,319.53 M526.68,318.36 L526.68,320.79" stroke-width="1.2600000000000002" stroke="#000"/>
<path d="M532.67,321.93 L532.67,325.07 L526.68,325.07 L526.68,321.93 L532.67,321.93 M529.75,321.93 L529.75,325.07 M532.67,323.5 L526.68,323.5" stroke-width="1.2600000000000002" stroke="#000"/>
<path d="M532.67,326.21 L532.67,329.51 M529.75,326.45 L529.75,329.27 M526.68,326.05 L526.68,329.67 M532.67,327.86 L526.68,327.86 M531.36,326.88 L531.36,328.84 M528.14,326.88 L528.14,328.84" stroke-width="1.2600000000000002" stroke="#000"/>
<path d="M532.52,330.65 L532.52,333.87 M532.52,330.73 L526.47,330.73 M530.48,331.44 L530.48,333.87 M528.58,331.44 L528.58,333.87 M530.48,332.61 L526.47,332.61 M526.68,331.44 L526.68,333.87" stroke-width="1.2600000000000002" stroke="#000"/>
<path d="M532.82,335.4 L526.68,335.4 M530.63,334.74 L530.63,336.19 M526.83,334.74 L528,336.19 M533.03,337.36 L526.47,337.36 M531.36,336.42 L531.36,338.39 M529.02,336.42 L529.02,338.39 M526.68,336.42 L526.68,338.39" stroke-width="1.2600000000000002" stroke="#000"/>
<path d="M532.52,339.37 L532.52,342.59 M532.52,339.45 L526.47,339.45 M530.48,340.16 L530.48,342.59 M528.58,340.16 L528.58,342.59 M530.48,341.33 L526.47,341.33 M526.68,340.16 L526.68,342.59" stroke-width="1.2600000000000002" stroke="#000"/>
<path d="M532.82,344.12 L526.68,344.12 M530.63,343.46 L530.63,344.91 M526.83,343.46 L528,344.91 M533.03,346.08 L526.47,346.08 M531.36,345.14 L531.36,347.11 M529.02,345.14 L529.02,347.11 M526.68,345.14 L526.68,347.11" stroke-width="1.2600000000000002" stroke="#000"/>
<path d="M531.21,347.85 L531.21,351.47 M533.11,349.66 L526.39,349.66 M530.92,349.66 L527.12,348.01 M530.92,349.66 L527.12,351.31 M529.02,348.48 L529.02,350.84" stroke-width="1.2600000000000002" stroke="#000"/>
<path d="M532.67,352.37 L532.67,355.67 M529.75,352.61 L529.75,355.43 M526.68,352.21 L526.68,355.83 M532.67,354.02 L526.68,354.02 M531.36,353.04 L531.36,355 M528.14,353.04 L528.14,355" stroke-width="1.2600000000000002" stroke="#000"/>
<path d="M662,301.97 L660.98,301.97 M659.81,300.09 L660.83,300.09 L660.83,303.84 L659.81,303.84 M658.93,300.69 L658.93,303.24 M657.47,300.69 L657.47,303.24 M655.43,300.05 L655.43,303.88 M658.93,301.97 L655.43,301.97" stroke-width="1.2600000000000002" stroke="#000"/>
<path d="M659.81,304.74 L659.81,308.66 M661.71,306.7 L654.99,306.7 M659.52,306.7 L655.72,304.91 M659.52,306.7 L655.72,308.49 M657.62,305.42 L657.62,307.98" stroke-width="1.2600000000000002" stroke="#000"/>
<path d="M662,311.43 L660.98,311.43 M659.81,309.56 L660.83,309.56 L660.83,313.31 L659.81,313.31 M658.93,310.16 L658.93,312.71 M657.47,310.16 L657.47,312.71 M655.43,309.52 L655.43,313.35 M658.93,311.43 L655.43,311.43" stroke-width="1.2600000000000002" stroke="#000"/>
<path d="M565.51,415.95 L565.51,419.35 M567.15,417.65 L561.35,417.65 M565.26,417.65 L561.98,416.1 M565.26,417.65 L561.98,419.2 M563.62,416.54 L563.62,418.76" stroke-width="1.2600000000000002" stroke="#000"/>
<path d="M565.51,420.05 L565.51,423.45 M567.15,421.75 L561.35,421.75 M565.26,421.75 L561.98,420.2 M565.26,421.75 L561.98,423.3 M563.62,420.64 L563.62,422.86" stroke-width="1.2600000000000002" stroke="#000"/>
<path d="M557.6,418.06 L556.63,418.06 M555.53,416.59 L556.5,416.59 L556.5,419.54 L555.53,419.54 M554.7,417.06 L554.7,419.07 M553.32,417.06 L553.32,419.07 M551.39,416.55 L551.39,419.57 M554.7,418.06 L551.39,418.06" stroke-width="1.4000000000000001" stroke="#000"/>
<path d="M556.91,420.38 L556.91,423.2 M554.15,420.58 L554.15,422.99 M551.25,420.25 L551.25,423.33 M556.91,421.79 L551.25,421.79 M555.67,420.95 L555.67,422.63 M552.63,420.95 L552.63,422.63" stroke-width="1.4000000000000001" stroke="#000"/>
<path d="M555.53,423.97 L555.53,427.05 M557.32,425.51 L550.98,425.51 M555.25,425.51 L551.67,424.1 M555.25,425.51 L551.67,426.92 M553.46,424.51 L553.46,426.52" stroke-width="1.4000000000000001" stroke="#000"/>
<path d="M556.91,427.9 L556.91,430.58 L551.25,430.58 L551.25,427.9 L556.91,427.9 M554.15,427.9 L554.15,430.58 M556.91,429.24 L551.25,429.24" stroke-width="1.4000000000000001" stroke="#000"/>
<path d="M557.05,431.96 L551.25,431.96 M554.98,431.39 L554.98,432.63 M551.39,431.39 L552.49,432.63 M557.25,433.63 L551.05,433.63 M555.67,432.83 L555.67,434.5 M553.46,432.83 L553.46,434.5 M551.25,432.83 L551.25,434.5" stroke-width="1.4000000000000001" stroke="#000"/>
<path d="M556.77,435.35 L556.77,438.1 M556.77,435.41 L551.05,435.41 M554.84,436.02 L554.84,438.1 M553.05,436.02 L553.05,438.1 M554.84,437.02 L551.05,437.02 M551.25,436.02 L551.25,438.1" stroke-width="1.4000000000000001" stroke="#000"/>
<path d="M556.77,439.07 L556.77,441.82 M556.77,439.14 L551.05,439.14 M554.84,439.74 L554.84,441.82 M553.05,439.74 L553.05,441.82 M554.84,440.75 L551.05,440.75 M551.25,439.74 L551.25,441.82" stroke-width="1.4000000000000001" stroke="#000"/>
<path d="M556.91,442.8 L556.91,445.48 L551.25,445.48 L551.25,442.8 L556.91,442.8 M554.15,442.8 L554.15,445.48 M556.91,444.14 L551.25,444.14" stroke-width="1.4000000000000001" stroke="#000"/>
<path d="M670.37,409.7 L670.37,412.57 M671.96,411.13 L666.34,411.13 M670.13,411.13 L666.95,409.82 M670.13,411.13 L666.95,412.44 M668.54,410.2 L668.54,412.07" stroke-width="1.2600000000000002" stroke="#000"/>
<path d="M671.59,413.35 L671.59,415.85 L666.59,415.85 L666.59,413.35 L671.59,413.35 M669.15,413.35 L669.15,415.85 M671.59,414.6 L666.59,414.6" stroke-width="1.2600000000000002" stroke="#000"/>
<path d="M671.71,417.13 L666.59,417.13 M669.88,416.6 L669.88,417.75 M666.71,416.6 L667.69,417.75 M671.9,418.69 L666.4,418.69 M670.49,417.94 L670.49,419.5 M668.54,417.94 L668.54,419.5 M666.59,417.94 L666.59,419.5" stroke-width="1.2600000000000002" stroke="#000"/>
<path d="M671.6,471.13 L670.75,471.13 M669.77,469.76 L670.62,469.76 L670.62,472.51 L669.77,472.51 M669.04,470.2 L669.04,472.07 M667.82,470.2 L667.82,472.07 M666.11,469.73 L666.11,472.54 M669.04,471.13 L666.11,471.13" stroke-width="1.2600000000000002" stroke="#000"/>
<path d="M669.77,473.16 L669.77,476.04 M671.36,474.6 L665.74,474.6 M669.53,474.6 L666.35,473.29 M669.53,474.6 L666.35,475.91 M667.94,473.66 L667.94,475.54" stroke-width="1.2600000000000002" stroke="#000"/>
<path d="M671.6,478.07 L670.75,478.07 M669.77,476.69 L670.62,476.69 L670.62,479.44 L669.77,479.44 M669.04,477.13 L669.04,479 M667.82,477.13 L667.82,479 M666.11,476.66 L666.11,479.47 M669.04,478.07 L666.11,478.07" stroke-width="1.2600000000000002" stroke="#000"/>
<path d="M693.85,383.87 L688.05,383.87 M691.78,383.29 L691.78,384.56 M688.19,383.29 L689.29,384.56 M694.05,385.58 L687.85,385.58 M692.47,384.76 L692.47,386.47 M690.26,384.76 L690.26,386.47 M688.05,384.76 L688.05,386.47" stroke-width="1.2600000000000002" stroke="#000"/>
<path d="M692.33,387.13 L692.33,390.27 M694.12,388.7 L687.78,388.7 M692.05,388.7 L688.47,387.26 M692.05,388.7 L688.47,390.14 M690.26,387.67 L690.26,389.73" stroke-width="1.2600000000000002" stroke="#000"/>
<path d="M644.51,503.43 L644.51,506.07 M641.75,503.62 L641.75,505.88 M638.85,503.3 L638.85,506.2 M644.51,504.75 L638.85,504.75 M643.27,503.96 L643.27,505.54 M640.23,503.96 L640.23,505.54" stroke-width="1.2600000000000002" stroke="#000"/>
<path d="M643.13,506.8 L643.13,509.7 M644.92,508.25 L638.58,508.25 M642.85,508.25 L639.27,506.93 M642.85,508.25 L639.27,509.57 M641.06,507.31 L641.06,509.19" stroke-width="1.2600000000000002" stroke="#000"/>
<path d="M499.09,535.54 L499.09,538.92 M496.25,535.79 L496.25,538.68 M493.27,535.38 L493.27,539.08 M499.09,537.23 L493.27,537.23 M497.81,536.23 L497.81,538.24 M494.69,536.23 L494.69,538.24" stroke-width="1.2600000000000002" stroke="#000"/>
<path d="M499.23,540.49 L493.27,540.49 M497.1,539.81 L497.1,541.3 M493.41,539.81 L494.55,541.3 M499.44,542.5 L493.06,542.5 M497.81,541.54 L497.81,543.55 M495.54,541.54 L495.54,543.55 M493.27,541.54 L493.27,543.55" stroke-width="1.2600000000000002" stroke="#000"/>
<path d="M499.09,544.48 L499.09,547.86 M496.25,544.72 L496.25,547.61 M493.27,544.32 L493.27,548.02 M499.09,546.17 L493.27,546.17 M497.81,545.16 L497.81,547.17 M494.69,545.16 L494.69,547.17" stroke-width="1.2600000000000002" stroke="#000"/>
<path d="M489.71,535.67 L489.71,538.61 M486.95,535.88 L486.95,538.4 M484.05,535.53 L484.05,538.75 M489.71,537.14 L484.05,537.14 M488.47,536.27 L488.47,538.02 M485.43,536.27 L485.43,538.02" stroke-width="1.2600000000000002" stroke="#000"/>
<path d="M488.33,539.42 L488.33,542.64 M490.12,541.03 L483.78,541.03 M488.05,541.03 L484.47,539.56 M488.05,541.03 L484.47,542.5 M486.26,539.98 L486.26,542.08" stroke-width="1.2600000000000002" stroke="#000"/>
<path d="M489.71,543.45 L489.71,546.39 M486.95,543.66 L486.95,546.18 M484.05,543.31 L484.05,546.53 M489.71,544.92 L484.05,544.92 M488.47,544.05 L488.47,545.8 M485.43,544.05 L485.43,545.8" stroke-width="1.2600000000000002" stroke="#000"/>
<path d="M489.71,547.41 L489.71,550.21 L484.05,550.21 L484.05,547.41 L489.71,547.41 M486.95,547.41 L486.95,550.21 M489.71,548.81 L484.05,548.81" stroke-width="1.2600000000000002" stroke="#000"/>
<path d="M489.85,551.65 L484.05,551.65 M487.78,551.06 L487.78,552.35 M484.19,551.06 L485.29,552.35 M490.05,553.4 L483.85,553.4 M488.47,552.56 L488.47,554.31 M486.26,552.56 L486.26,554.31 M484.05,552.56 L484.05,554.31" stroke-width="1.2600000000000002" stroke="#000"/>
<path d="M490.4,556.59 L489.43,556.59 M488.33,555.05 L489.3,555.05 L489.3,558.13 L488.33,558.13 M487.5,555.54 L487.5,557.64 M486.12,555.54 L486.12,557.64 M484.19,555.01 L484.19,558.16 M487.5,556.59 L484.19,556.59" stroke-width="1.2600000000000002" stroke="#000"/>
<path d="M489.57,559.08 L489.57,561.95 M489.57,559.15 L483.85,559.15 M487.64,559.78 L487.64,561.95 M485.85,559.78 L485.85,561.95 M487.64,560.83 L483.85,560.83 M484.05,559.78 L484.05,561.95" stroke-width="1.2600000000000002" stroke="#000"/>
<path d="M489.85,563.32 L484.05,563.32 M487.78,562.72 L487.78,564.02 M484.19,562.72 L485.29,564.02 M490.05,565.07 L483.85,565.07 M488.47,564.23 L488.47,565.98 M486.26,564.23 L486.26,565.98 M484.05,564.23 L484.05,565.98" stroke-width="1.2600000000000002" stroke="#000"/>
<path d="M489.71,566.79 L489.71,569.73 M486.95,567 L486.95,569.52 M484.05,566.65 L484.05,569.87 M489.71,568.26 L484.05,568.26 M488.47,567.38 L488.47,569.13 M485.43,567.38 L485.43,569.13" stroke-width="1.2600000000000002" stroke="#000"/>
<path d="M571,559.73 L570.12,559.73 M569.11,558.2 L569.99,558.2 L569.99,561.26 L569.11,561.26 M568.35,558.69 L568.35,560.78 M567.09,558.69 L567.09,560.78 M565.33,558.17 L565.33,561.3 M568.35,559.73 L565.33,559.73" stroke-width="1.2600000000000002" stroke="#000"/>
<path d="M571,563.6 L570.12,563.6 M569.11,562.07 L569.99,562.07 L569.99,565.13 L569.11,565.13 M568.35,562.56 L568.35,564.64 M567.09,562.56 L567.09,564.64 M565.33,562.03 L565.33,565.17 M568.35,563.6 L565.33,563.6" stroke-width="1.2600000000000002" stroke="#000"/>
<path d="M570.37,566.07 L570.37,568.86 L565.2,568.86 L565.2,566.07 L570.37,566.07 M567.85,566.07 L567.85,568.86 M570.37,567.47 L565.2,567.47" stroke-width="1.2600000000000002" stroke="#000"/>
<path d="M591,555.85 L590.09,555.85 M589.05,554.38 L589.96,554.38 L589.96,557.32 L589.05,557.32 M588.27,554.85 L588.27,556.85 M586.97,554.85 L586.97,556.85 M585.15,554.35 L585.15,557.35 M588.27,555.85 L585.15,555.85" stroke-width="1.2600000000000002" stroke="#000"/>
<path d="M590.48,558.55 L585.02,558.55 M588.53,557.98 L588.53,559.22 M585.15,557.98 L586.19,559.22 M590.67,560.22 L584.83,560.22 M589.18,559.42 L589.18,561.08 M587.1,559.42 L587.1,561.08 M585.02,559.42 L585.02,561.08" stroke-width="1.2600000000000002" stroke="#000"/>
<path d="M387.67,658.1 L387.67,661.23 M384.75,658.33 L384.75,661.01 M381.68,657.96 L381.68,661.38 M387.67,659.67 L381.68,659.67 M386.36,658.74 L386.36,660.6 M383.14,658.74 L383.14,660.6" stroke-width="1.2600000000000002" stroke="#000"/>
<path d="M387.67,662.24 L387.67,665.36 M384.75,662.46 L384.75,665.14 M381.68,662.09 L381.68,665.51 M387.67,663.8 L381.68,663.8 M386.36,662.87 L386.36,664.73 M383.14,662.87 L383.14,664.73" stroke-width="1.2600000000000002" stroke="#000"/>
<path d="M387.67,666.37 L387.67,669.5 M384.75,666.59 L384.75,669.27 M381.68,666.22 L381.68,669.64 M387.67,667.93 L381.68,667.93 M386.36,667 L386.36,668.86 M383.14,667 L383.14,668.86" stroke-width="1.2600000000000002" stroke="#000"/>
<path d="M378.72,658.19 L378.72,661.32 M378.72,658.27 L372.67,658.27 M376.68,658.96 L376.68,661.32 M374.78,658.96 L374.78,661.32 M376.68,660.1 L372.67,660.1 M372.88,658.96 L372.88,661.32" stroke-width="1.2600000000000002" stroke="#000"/>
<path d="M379.6,663.96 L378.58,663.96 M377.41,662.28 L378.43,662.28 L378.43,665.64 L377.41,665.64 M376.53,662.82 L376.53,665.1 M375.07,662.82 L375.07,665.1 M373.03,662.24 L373.03,665.68 M376.53,663.96 L373.03,663.96" stroke-width="1.2600000000000002" stroke="#000"/>
<path d="M379.6,668.2 L378.58,668.2 M377.41,666.52 L378.43,666.52 L378.43,669.88 L377.41,669.88 M376.53,667.06 L376.53,669.34 M375.07,667.06 L375.07,669.34 M373.03,666.48 L373.03,669.92 M376.53,668.2 L373.03,668.2" stroke-width="1.2600000000000002" stroke="#000"/>
<path d="M378.87,670.91 L378.87,673.97 L372.88,673.97 L372.88,670.91 L378.87,670.91 M375.95,670.91 L375.95,673.97 M378.87,672.44 L372.88,672.44" stroke-width="1.2600000000000002" stroke="#000"/>
<path d="M379.6,676.68 L378.58,676.68 M377.41,675 L378.43,675 L378.43,678.36 L377.41,678.36 M376.53,675.54 L376.53,677.82 M375.07,675.54 L375.07,677.82 M373.03,674.96 L373.03,678.4 M376.53,676.68 L373.03,676.68" stroke-width="1.2600000000000002" stroke="#000"/>
<path d="M378.87,679.32 L378.87,682.52 M375.95,679.55 L375.95,682.29 M372.88,679.16 L372.88,682.68 M378.87,680.92 L372.88,680.92 M377.56,679.97 L377.56,681.87 M374.34,679.97 L374.34,681.87" stroke-width="1.2600000000000002" stroke="#000"/>
<path d="M379.02,684.02 L372.88,684.02 M376.83,683.37 L376.83,684.78 M373.03,683.37 L374.2,684.78 M379.24,685.92 L372.67,685.92 M377.56,685.01 L377.56,686.92 M375.22,685.01 L375.22,686.92 M372.88,685.01 L372.88,686.92" stroke-width="1.2600000000000002" stroke="#000"/>
<path d="M379.02,688.26 L372.88,688.26 M376.83,687.61 L376.83,689.02 M373.03,687.61 L374.2,689.02 M379.24,690.16 L372.67,690.16 M377.56,689.25 L377.56,691.16 M375.22,689.25 L375.22,691.16 M372.88,689.25 L372.88,691.16" stroke-width="1.2600000000000002" stroke="#000"/>
<path d="M378.72,692.11 L378.72,695.24 M378.72,692.19 L372.67,692.19 M376.68,692.88 L376.68,695.24 M374.78,692.88 L374.78,695.24 M376.68,694.02 L372.67,694.02 M372.88,692.88 L372.88,695.24" stroke-width="1.2600000000000002" stroke="#000"/>
<path d="M378.72,696.35 L378.72,699.48 M378.72,696.43 L372.67,696.43 M376.68,697.12 L376.68,699.48 M374.78,697.12 L374.78,699.48 M376.68,698.26 L372.67,698.26 M372.88,697.12 L372.88,699.48" stroke-width="1.2600000000000002" stroke="#000"/>
<path d="M461.85,681.36 L461.85,684.78 M463.54,683.07 L457.56,683.07 M461.59,683.07 L458.21,681.5 M461.59,683.07 L458.21,684.63 M459.9,681.95 L459.9,684.18" stroke-width="1.4000000000000001" stroke="#000"/>
<path d="M463.8,687.2 L462.89,687.2 M461.85,685.56 L462.76,685.56 L462.76,688.84 L461.85,688.84 M461.07,686.08 L461.07,688.32 M459.77,686.08 L459.77,688.32 M457.95,685.53 L457.95,688.87 M461.07,687.2 L457.95,687.2" stroke-width="1.4000000000000001" stroke="#000"/>
<path d="M461.85,689.62 L461.85,693.04 M463.54,691.33 L457.56,691.33 M461.59,691.33 L458.21,689.77 M461.59,691.33 L458.21,692.9 M459.9,690.22 L459.9,692.45" stroke-width="1.4000000000000001" stroke="#000"/>
<text transform="translate(449.8,685) rotate(90) scale(0.6,1)" text-anchor="middle" font-size="6.6" font-weight="bold" stroke="#000" stroke-width="0.45" fill="#000">1800*2000</text>
<path d="M362.52,746.7 L362.52,750.39 M362.52,746.79 L356.46,746.79 M360.48,747.6 L360.48,750.39 M358.58,747.6 L358.58,750.39 M360.48,748.95 L356.46,748.95 M356.68,747.6 L356.68,750.39" stroke-width="1.12" stroke="#000"/>
<path d="M362.82,752.15 L356.68,752.15 M360.63,751.38 L360.63,753.05 M356.83,751.38 L358,753.05 M363.03,754.4 L356.46,754.4 M361.36,753.32 L361.36,755.57 M359.02,753.32 L359.02,755.57 M356.68,753.32 L356.68,755.57" stroke-width="1.12" stroke="#000"/>
<path d="M525.12,764.56 L525.12,767.51 M525.12,764.63 L519.07,764.63 M523.08,765.28 L523.08,767.51 M521.18,765.28 L521.18,767.51 M523.08,766.36 L519.07,766.36 M519.28,765.28 L519.28,767.51" stroke-width="1.12" stroke="#000"/>
<path d="M523.81,768.34 L523.81,771.66 M525.71,770 L518.99,770 M523.52,770 L519.72,768.49 M523.52,770 L519.72,771.51 M521.62,768.92 L521.62,771.08" stroke-width="1.12" stroke="#000"/>
<text transform="translate(94.6,484.6) rotate(90)" font-size="7.2" textLength="18.8" lengthAdjust="spacingAndGlyphs" stroke="#000" stroke-width="0.35" fill="#000">PROJECT</text>
<path d="M99.08,508.9 L99.08,511.3 L94.82,511.3 L94.82,508.9 L99.08,508.9 M97,508.9 L97,511.3 M99.08,510.1 L94.82,510.1" stroke-width="1.125" stroke="#000"/>
<path d="M98.98,512.3 L98.98,514.76 M98.98,512.36 L94.66,512.36 M97.52,512.9 L97.52,514.76 M96.17,512.9 L96.17,514.76 M97.52,513.8 L94.66,513.8 M94.82,512.9 L94.82,514.76" stroke-width="1.125" stroke="#000"/>
<path d="M99.18,516 L94.82,516 M97.62,515.49 L97.62,516.6 M94.92,515.49 L95.75,516.6 M99.34,517.5 L94.66,517.5 M98.14,516.78 L98.14,518.28 M96.48,516.78 L96.48,518.28 M94.82,516.78 L94.82,518.28" stroke-width="1.125" stroke="#000"/>
<path d="M98.04,518.92 L98.04,521.68 M99.39,520.3 L94.61,520.3 M97.83,520.3 L95.13,519.04 M97.83,520.3 L95.13,521.56 M96.48,519.4 L96.48,521.2" stroke-width="1.125" stroke="#000"/>
<text transform="translate(54.8,484.6) rotate(90)" font-size="7.2" textLength="30.4" lengthAdjust="spacingAndGlyphs" stroke="#000" stroke-width="0.35" fill="#000">DRAWING TITLE</text>
<path d="M58.32,519.77 L58.32,522.93 M59.78,521.35 L54.62,521.35 M58.1,521.35 L55.18,519.91 M58.1,521.35 L55.18,522.79 M56.64,520.32 L56.64,522.38" stroke-width="1.125" stroke="#000"/>
<path d="M59.33,523.88 L59.33,526.69 M59.33,523.95 L54.68,523.95 M57.76,524.56 L57.76,526.69 M56.3,524.56 L56.3,526.69 M57.76,525.59 L54.68,525.59 M54.85,524.56 L54.85,526.69" stroke-width="1.125" stroke="#000"/>
<path d="M59.33,527.78 L59.33,530.59 M59.33,527.85 L54.68,527.85 M57.76,528.46 L57.76,530.59 M56.3,528.46 L56.3,530.59 M57.76,529.49 L54.68,529.49 M54.85,528.46 L54.85,530.59" stroke-width="1.125" stroke="#000"/>
<path d="M59.44,531.61 L59.44,534.49 M57.2,531.81 L57.2,534.29 M54.85,531.47 L54.85,534.63 M59.44,533.05 L54.85,533.05 M58.43,532.19 L58.43,533.91 M55.97,532.19 L55.97,533.91" stroke-width="1.125" stroke="#000"/>
<text transform="translate(56.6,689.4) rotate(90)" font-size="7.2" textLength="13.2" lengthAdjust="spacingAndGlyphs" stroke="#000" stroke-width="0.35" fill="#000">SCALE</text>
<path d="M61.06,707.08 L61.06,709.82 M58.9,707.28 L58.9,709.62 M56.63,706.95 L56.63,709.95 M61.06,708.45 L56.63,708.45 M60.09,707.64 L60.09,709.26 M57.71,707.64 L57.71,709.26" stroke-width="1.125" stroke="#000"/>
<path d="M60.95,710.85 L60.95,713.52 M60.95,710.91 L56.47,710.91 M59.44,711.5 L59.44,713.52 M58.04,711.5 L58.04,713.52 M59.44,712.48 L56.47,712.48 M56.63,711.5 L56.63,713.52" stroke-width="1.125" stroke="#000"/>
<text transform="translate(95.6,689.4) rotate(90)" font-size="7.2" textLength="9.2" lengthAdjust="spacingAndGlyphs" stroke="#000" stroke-width="0.35" fill="#000">DATE</text>
<path d="M98.98,701.73 L98.98,704.57 M100.38,703.15 L95.42,703.15 M98.76,703.15 L95.96,701.86 M98.76,703.15 L95.96,704.44 M97.36,702.23 L97.36,704.07" stroke-width="1.125" stroke="#000"/>
<path d="M100.6,706.65 L99.84,706.65 M98.98,705.29 L99.74,705.29 L99.74,708.01 L98.98,708.01 M98.33,705.73 L98.33,707.57 M97.25,705.73 L97.25,707.57 M95.74,705.26 L95.74,708.04 M98.33,706.65 L95.74,706.65" stroke-width="1.125" stroke="#000"/>
<text transform="translate(56.6,726.4) rotate(90)" font-size="7.2" textLength="38.4" lengthAdjust="spacingAndGlyphs" stroke="#000" stroke-width="0.35" fill="#000">PROJECT MANAGER</text>
<path d="M61.06,769.72 L61.06,772.63 M58.9,769.92 L58.9,772.43 M56.63,769.58 L56.63,772.77 M61.06,771.17 L56.63,771.17 M60.09,770.31 L60.09,772.04 M57.71,770.31 L57.71,772.04" stroke-width="1.125" stroke="#000"/>
<path d="M61.17,774.08 L56.63,774.08 M59.55,773.49 L59.55,774.78 M56.74,773.49 L57.6,774.78 M61.33,775.82 L56.47,775.82 M60.09,774.99 L60.09,776.72 M58.36,774.99 L58.36,776.72 M56.63,774.99 L56.63,776.72" stroke-width="1.125" stroke="#000"/>
<path d="M61.06,777.62 L61.06,780.53 M58.9,777.82 L58.9,780.33 M56.63,777.48 L56.63,780.67 M61.06,779.07 L56.63,779.07 M60.09,778.21 L60.09,779.94 M57.71,778.21 L57.71,779.94" stroke-width="1.125" stroke="#000"/>
<path d="M61.17,781.98 L56.63,781.98 M59.55,781.39 L59.55,782.68 M56.74,781.39 L57.6,782.68 M61.33,783.72 L56.47,783.72 M60.09,782.89 L60.09,784.62 M58.36,782.89 L58.36,784.62 M56.63,782.89 L56.63,784.62" stroke-width="1.125" stroke="#000"/>
<text transform="translate(95.6,726.4) rotate(90)" font-size="7.2" textLength="35" lengthAdjust="spacingAndGlyphs" stroke="#000" stroke-width="0.35" fill="#000">DESIGN MANAGER</text>
<path d="M100.06,769.72 L100.06,772.63 M97.9,769.92 L97.9,772.43 M95.63,769.58 L95.63,772.77 M100.06,771.17 L95.63,771.17 M99.09,770.31 L99.09,772.04 M96.71,770.31 L96.71,772.04" stroke-width="1.125" stroke="#000"/>
<path d="M100.06,773.73 L100.06,776.52 L95.63,776.52 L95.63,773.73 L100.06,773.73 M97.9,773.73 L97.9,776.52 M100.06,775.12 L95.63,775.12" stroke-width="1.125" stroke="#000"/>
<path d="M99.95,777.68 L99.95,780.53 M99.95,777.75 L95.47,777.75 M98.44,778.38 L98.44,780.53 M97.04,778.38 L97.04,780.53 M98.44,779.42 L95.47,779.42 M95.63,778.38 L95.63,780.53" stroke-width="1.125" stroke="#000"/>
<path d="M100.17,781.98 L95.63,781.98 M98.55,781.39 L98.55,782.68 M95.74,781.39 L96.6,782.68 M100.33,783.72 L95.47,783.72 M99.09,782.89 L99.09,784.62 M97.36,782.89 L97.36,784.62 M95.63,782.89 L95.63,784.62" stroke-width="1.125" stroke="#000"/>
<text transform="translate(56.6,790.8) rotate(90)" font-size="7.2" textLength="37.2" lengthAdjust="spacingAndGlyphs" stroke="#000" stroke-width="0.35" fill="#000">OWNER SIGNATURE</text>
<path d="M60.95,832.98 L60.95,835.83 M60.95,833.05 L56.47,833.05 M59.44,833.68 L59.44,835.83 M58.04,833.68 L58.04,835.83 M59.44,834.72 L56.47,834.72 M56.63,833.68 L56.63,835.83" stroke-width="1.125" stroke="#000"/>
<path d="M60.95,836.93 L60.95,839.78 M60.95,837 L56.47,837 M59.44,837.63 L59.44,839.78 M58.04,837.63 L58.04,839.78 M59.44,838.67 L56.47,838.67 M56.63,837.63 L56.63,839.78" stroke-width="1.125" stroke="#000"/>
<path d="M60.95,840.88 L60.95,843.73 M60.95,840.95 L56.47,840.95 M59.44,841.58 L59.44,843.73 M58.04,841.58 L58.04,843.73 M59.44,842.62 L56.47,842.62 M56.63,841.58 L56.63,843.73" stroke-width="1.125" stroke="#000"/>
<path d="M61.06,844.77 L61.06,847.68 M58.9,844.97 L58.9,847.48 M56.63,844.63 L56.63,847.82 M61.06,846.23 L56.63,846.23 M60.09,845.36 L60.09,847.09 M57.71,845.36 L57.71,847.09" stroke-width="1.125" stroke="#000"/>
<text transform="translate(95.6,790.8) rotate(90)" font-size="7.2" textLength="20.2" lengthAdjust="spacingAndGlyphs" stroke="#000" stroke-width="0.35" fill="#000">DESIGNER</text>
<path d="M100.06,813.7 L100.06,816.5 M97.9,813.9 L97.9,816.3 M95.63,813.56 L95.63,816.64 M100.06,815.1 L95.63,815.1 M99.09,814.26 L99.09,815.94 M96.71,814.26 L96.71,815.94" stroke-width="1.125" stroke="#000"/>
<path d="M99.95,817.56 L99.95,820.3 M99.95,817.63 L95.47,817.63 M98.44,818.23 L98.44,820.3 M97.04,818.23 L97.04,820.3 M98.44,819.23 L95.47,819.23 M95.63,818.23 L95.63,820.3" stroke-width="1.125" stroke="#000"/>
<path d="M100.06,821.36 L100.06,824.04 L95.63,824.04 L95.63,821.36 L100.06,821.36 M97.9,821.36 L97.9,824.04 M100.06,822.7 L95.63,822.7" stroke-width="1.125" stroke="#000"/>
<text transform="translate(88.2,855.2) rotate(90)" font-size="7.2" textLength="16.8" lengthAdjust="spacingAndGlyphs" stroke="#000" stroke-width="0.35" fill="#000">DWG.NO</text>
<path d="M91.86,873.59 L91.86,876.91 M93.37,875.25 L88.03,875.25 M91.63,875.25 L88.61,873.73 M91.63,875.25 L88.61,876.77 M90.12,874.17 L90.12,876.33" stroke-width="1.125" stroke="#000"/>
<path d="M93.14,878.27 L88.26,878.27 M91.4,877.65 L91.4,878.99 M88.38,877.65 L89.31,878.99 M93.31,880.07 L88.09,880.07 M91.98,879.21 L91.98,881.01 M90.12,879.21 L90.12,881.01 M88.26,879.21 L88.26,881.01" stroke-width="1.125" stroke="#000"/>
<path d="M94.3,308.6 L94.3,312 M92.3,308.84 L92.3,311.76 M90.2,308.44 L90.2,312.16 M94.3,310.3 L90.2,310.3 M93.4,309.29 L93.4,311.31 M91.2,309.29 L91.2,311.31" stroke-width="1.875" stroke="#000"/>
<path d="M94.55,318.83 L89.85,318.83 M92.87,318.3 L92.87,319.44 M89.96,318.3 L90.86,319.44 M94.72,320.37 L89.68,320.37 M93.43,319.63 L93.43,321.17 M91.64,319.63 L91.64,321.17 M89.85,319.63 L89.85,321.17" stroke-width="1.5" stroke="#000"/>
<path d="M94.44,322.02 L94.44,324.48 L89.85,324.48 L89.85,322.02 L94.44,322.02 M92.2,322.02 L92.2,324.48 M94.44,323.25 L89.85,323.25" stroke-width="1.5" stroke="#000"/>
<path d="M96,437.3 L95.22,437.3 M94.32,435.83 L95.1,435.83 L95.1,438.77 L94.32,438.77 M93.65,436.3 L93.65,438.3 M92.53,436.3 L92.53,438.3 M90.96,435.8 L90.96,438.8 M93.65,437.3 L90.96,437.3" stroke-width="1.125" stroke="#000"/>
<path d="M95.33,439.76 L95.33,442.5 M95.33,439.83 L90.68,439.83 M93.76,440.43 L93.76,442.5 M92.3,440.43 L92.3,442.5 M93.76,441.43 L90.68,441.43 M90.85,440.43 L90.85,442.5" stroke-width="1.125" stroke="#000"/>
<path d="M95.55,471.87 L90.85,471.87 M93.87,471.07 L93.87,472.82 M90.96,471.07 L91.86,472.82 M95.72,474.25 L90.68,474.25 M94.43,473.11 L94.43,475.49 M92.64,473.11 L92.64,475.49 M90.85,473.11 L90.85,475.49" stroke-width="1.125" stroke="#000"/>
<path d="M84.03,219.63 L80.17,219.63 M82.65,219.1 L82.65,220.24 M80.26,219.1 L81,220.24 M84.17,221.17 L80.03,221.17 M83.11,220.43 L83.11,221.97 M81.64,220.43 L81.64,221.97 M80.17,220.43 L80.17,221.97" stroke-width="1.25" stroke="#000"/>
<path d="M84.03,223.13 L80.17,223.13 M82.65,222.6 L82.65,223.74 M80.26,222.6 L81,223.74 M84.17,224.67 L80.03,224.67 M83.11,223.93 L83.11,225.47 M81.64,223.93 L81.64,225.47 M80.17,223.93 L80.17,225.47" stroke-width="1.25" stroke="#000"/>
<path d="M75.16,219.25 L75.16,221.98 L71.55,221.98 L71.55,219.25 L75.16,219.25 M73.4,219.25 L73.4,221.98 M75.16,220.62 L71.55,220.62" stroke-width="1.1875" stroke="#000"/>
<path d="M74.28,222.68 L74.28,225.82 M75.42,224.25 L71.38,224.25 M74.1,224.25 L71.82,222.81 M74.1,224.25 L71.82,225.68 M72.96,223.22 L72.96,225.27" stroke-width="1.1875" stroke="#000"/>
<path d="M74.28,226.31 L74.28,229.45 M75.42,227.88 L71.38,227.88 M74.1,227.88 L71.82,226.45 M74.1,227.88 L71.82,229.31 M72.96,226.85 L72.96,228.9" stroke-width="1.1875" stroke="#000"/>
<path d="M74.28,229.94 L74.28,233.08 M75.42,231.51 L71.38,231.51 M74.1,231.51 L71.82,230.08 M74.1,231.51 L71.82,232.94 M72.96,230.49 L72.96,232.53" stroke-width="1.1875" stroke="#000"/>
<path d="M75.16,233.71 L75.16,236.58 M73.4,233.91 L73.4,236.37 M71.55,233.57 L71.55,236.71 M75.16,235.14 L71.55,235.14 M74.37,234.29 L74.37,236 M72.43,234.29 L72.43,236" stroke-width="1.1875" stroke="#000"/>
<path d="M74.28,237.2 L74.28,240.34 M75.42,238.77 L71.38,238.77 M74.1,238.77 L71.82,237.34 M74.1,238.77 L71.82,240.21 M72.96,237.75 L72.96,239.8" stroke-width="1.1875" stroke="#000"/>
<path d="M75.6,242.41 L74.98,242.41 M74.28,240.9 L74.9,240.9 L74.9,243.91 L74.28,243.91 M73.75,241.38 L73.75,243.43 M72.87,241.38 L72.87,243.43 M71.64,240.87 L71.64,243.94 M73.75,242.41 L71.64,242.41" stroke-width="1.1875" stroke="#000"/>
<path d="M75.16,244.6 L75.16,247.47 M73.4,244.81 L73.4,247.27 M71.55,244.47 L71.55,247.61 M75.16,246.04 L71.55,246.04 M74.37,245.18 L74.37,246.89 M72.43,245.18 L72.43,246.89" stroke-width="1.1875" stroke="#000"/>
<path d="M75.6,249.67 L74.98,249.67 M74.28,248.17 L74.9,248.17 L74.9,251.17 L74.28,251.17 M73.75,248.64 L73.75,250.69 M72.87,248.64 L72.87,250.69 M71.64,248.13 L71.64,251.2 M73.75,249.67 L71.64,249.67" stroke-width="1.1875" stroke="#000"/>
<path d="M75.16,251.87 L75.16,254.73 M73.4,252.07 L73.4,254.53 M71.55,251.73 L71.55,254.87 M75.16,253.3 L71.55,253.3 M74.37,252.45 L74.37,254.15 M72.43,252.45 L72.43,254.15" stroke-width="1.1875" stroke="#000"/>
<path d="M75.07,255.57 L75.07,258.37 M75.07,255.63 L71.42,255.63 M73.84,256.25 L73.84,258.37 M72.7,256.25 L72.7,258.37 M73.84,257.27 L71.42,257.27 M71.55,256.25 L71.55,258.37" stroke-width="1.1875" stroke="#000"/>
<path d="M75.16,259.13 L75.16,262 M73.4,259.33 L73.4,261.79 M71.55,258.99 L71.55,262.13 M75.16,260.56 L71.55,260.56 M74.37,259.71 L74.37,261.42 M72.43,259.71 L72.43,261.42" stroke-width="1.1875" stroke="#000"/>
<path d="M75.16,262.76 L75.16,265.63 M73.4,262.97 L73.4,265.42 M71.55,262.62 L71.55,265.77 M75.16,264.19 L71.55,264.19 M74.37,263.34 L74.37,265.05 M72.43,263.34 L72.43,265.05" stroke-width="1.1875" stroke="#000"/>
<path d="M75.25,266.8 L71.55,266.8 M73.93,266.22 L73.93,267.48 M71.64,266.22 L72.34,267.48 M75.38,268.51 L71.42,268.51 M74.37,267.69 L74.37,269.4 M72.96,267.69 L72.96,269.4 M71.55,267.69 L71.55,269.4" stroke-width="1.1875" stroke="#000"/>
<path d="M74.28,269.89 L74.28,273.03 M75.42,271.46 L71.38,271.46 M74.1,271.46 L71.82,270.02 M74.1,271.46 L71.82,272.89 M72.96,270.43 L72.96,272.48" stroke-width="1.1875" stroke="#000"/>
<path d="M75.6,275.09 L74.98,275.09 M74.28,273.59 L74.9,273.59 L74.9,276.59 L74.28,276.59 M73.75,274.07 L73.75,276.11 M72.87,274.07 L72.87,276.11 M71.64,273.55 L71.64,276.63 M73.75,275.09 L71.64,275.09" stroke-width="1.1875" stroke="#000"/>
<path d="M75.6,278.72 L74.98,278.72 M74.28,277.22 L74.9,277.22 L74.9,280.22 L74.28,280.22 M73.75,277.7 L73.75,279.75 M72.87,277.7 L72.87,279.75 M71.64,277.18 L71.64,280.26 M73.75,278.72 L71.64,278.72" stroke-width="1.1875" stroke="#000"/>
<path d="M75.6,282.35 L74.98,282.35 M74.28,280.85 L74.9,280.85 L74.9,283.85 L74.28,283.85 M73.75,281.33 L73.75,283.38 M72.87,281.33 L72.87,283.38 M71.64,280.82 L71.64,283.89 M73.75,282.35 L71.64,282.35" stroke-width="1.1875" stroke="#000"/>
<path d="M75.16,284.62 L75.16,287.35 L71.55,287.35 L71.55,284.62 L75.16,284.62 M73.4,284.62 L73.4,287.35 M75.16,285.98 L71.55,285.98" stroke-width="1.1875" stroke="#000"/>
<path d="M68.48,219.59 L65.12,219.59 M67.28,219.01 L67.28,220.27 M65.2,219.01 L65.84,220.27 M68.6,221.3 L65,221.3 M67.68,220.48 L67.68,222.19 M66.4,220.48 L66.4,222.19 M65.12,220.48 L65.12,222.19" stroke-width="1.1875" stroke="#000"/>
<path d="M67.6,222.68 L67.6,225.82 M68.64,224.25 L64.96,224.25 M67.44,224.25 L65.36,222.81 M67.44,224.25 L65.36,225.68 M66.4,223.22 L66.4,225.27" stroke-width="1.1875" stroke="#000"/>
<path d="M68.48,226.85 L65.12,226.85 M67.28,226.27 L67.28,227.54 M65.2,226.27 L65.84,227.54 M68.6,228.56 L65,228.56 M67.68,227.74 L67.68,229.45 M66.4,227.74 L66.4,229.45 M65.12,227.74 L65.12,229.45" stroke-width="1.1875" stroke="#000"/>
<path d="M68.4,230.08 L68.4,232.94 M66.8,230.28 L66.8,232.74 M65.12,229.94 L65.12,233.08 M68.4,231.51 L65.12,231.51 M67.68,230.66 L67.68,232.36 M65.92,230.66 L65.92,232.36" stroke-width="1.1875" stroke="#000"/>
<path d="M68.48,234.12 L65.12,234.12 M67.28,233.54 L67.28,234.8 M65.2,233.54 L65.84,234.8 M68.6,235.82 L65,235.82 M67.68,235.01 L67.68,236.71 M66.4,235.01 L66.4,236.71 M65.12,235.01 L65.12,236.71" stroke-width="1.1875" stroke="#000"/>
<path d="M68.4,237.34 L68.4,240.21 M66.8,237.54 L66.8,240 M65.12,237.2 L65.12,240.34 M68.4,238.77 L65.12,238.77 M67.68,237.92 L67.68,239.63 M65.92,237.92 L65.92,239.63" stroke-width="1.1875" stroke="#000"/>
<path d="M68.48,241.38 L65.12,241.38 M67.28,240.8 L67.28,242.06 M65.2,240.8 L65.84,242.06 M68.6,243.09 L65,243.09 M67.68,242.27 L67.68,243.98 M66.4,242.27 L66.4,243.98 M65.12,242.27 L65.12,243.98" stroke-width="1.1875" stroke="#000"/>
<path d="M68.32,244.67 L68.32,247.47 M68.32,244.74 L65,244.74 M67.2,245.35 L67.2,247.47 M66.16,245.35 L66.16,247.47 M67.2,246.38 L65,246.38 M65.12,245.35 L65.12,247.47" stroke-width="1.1875" stroke="#000"/>
<path d="M67.6,248.1 L67.6,251.24 M68.64,249.67 L64.96,249.67 M67.44,249.67 L65.36,248.23 M67.44,249.67 L65.36,251.1 M66.4,248.64 L66.4,250.69" stroke-width="1.1875" stroke="#000"/>
<path d="M68.4,251.87 L68.4,254.73 M66.8,252.07 L66.8,254.53 M65.12,251.73 L65.12,254.87 M68.4,253.3 L65.12,253.3 M67.68,252.45 L67.68,254.15 M65.92,252.45 L65.92,254.15" stroke-width="1.1875" stroke="#000"/>
<path d="M68.48,255.91 L65.12,255.91 M67.28,255.33 L67.28,256.59 M65.2,255.33 L65.84,256.59 M68.6,257.61 L65,257.61 M67.68,256.8 L67.68,258.5 M66.4,256.8 L66.4,258.5 M65.12,256.8 L65.12,258.5" stroke-width="1.1875" stroke="#000"/>
<path d="M68.32,259.2 L68.32,262 M68.32,259.27 L65,259.27 M67.2,259.88 L67.2,262 M66.16,259.88 L66.16,262 M67.2,260.9 L65,260.9 M65.12,259.88 L65.12,262" stroke-width="1.1875" stroke="#000"/>
<path d="M67.6,262.62 L67.6,265.77 M68.64,264.19 L64.96,264.19 M67.44,264.19 L65.36,262.76 M67.44,264.19 L65.36,265.63 M66.4,263.17 L66.4,265.22" stroke-width="1.1875" stroke="#000"/>
<path d="M68.4,266.39 L68.4,269.26 M66.8,266.6 L66.8,269.06 M65.12,266.26 L65.12,269.4 M68.4,267.83 L65.12,267.83 M67.68,266.97 L67.68,268.68 M65.92,266.97 L65.92,268.68" stroke-width="1.1875" stroke="#000"/>
<path d="M68.4,270.02 L68.4,272.89 M66.8,270.23 L66.8,272.69 M65.12,269.89 L65.12,273.03 M68.4,271.46 L65.12,271.46 M67.68,270.6 L67.68,272.31 M65.92,270.6 L65.92,272.31" stroke-width="1.1875" stroke="#000"/>
<path d="M68.8,275.09 L68.24,275.09 M67.6,273.59 L68.16,273.59 L68.16,276.59 L67.6,276.59 M67.12,274.07 L67.12,276.11 M66.32,274.07 L66.32,276.11 M65.2,273.55 L65.2,276.63 M67.12,275.09 L65.2,275.09" stroke-width="1.1875" stroke="#000"/>
<path d="M68.4,277.36 L68.4,280.09 L65.12,280.09 L65.12,277.36 L68.4,277.36 M66.8,277.36 L66.8,280.09 M68.4,278.72 L65.12,278.72" stroke-width="1.1875" stroke="#000"/>
<path d="M68.32,280.99 L68.32,283.79 M68.32,281.06 L65,281.06 M67.2,281.67 L67.2,283.79 M66.16,281.67 L66.16,283.79 M67.2,282.69 L65,282.69 M65.12,281.67 L65.12,283.79" stroke-width="1.1875" stroke="#000"/>
<path d="M68.8,285.98 L68.24,285.98 M67.6,284.48 L68.16,284.48 L68.16,287.49 L67.6,287.49 M67.12,284.96 L67.12,287.01 M66.32,284.96 L66.32,287.01 M65.2,284.45 L65.2,287.52 M67.12,285.98 L65.2,285.98" stroke-width="1.1875" stroke="#000"/>
<path d="M61.4,220.62 L60.81,220.62 M60.14,219.11 L60.73,219.11 L60.73,222.12 L60.14,222.12 M59.64,219.59 L59.64,221.64 M58.8,219.59 L58.8,221.64 M57.62,219.08 L57.62,222.15 M59.64,220.62 L57.62,220.62" stroke-width="1.1875" stroke="#000"/>
<path d="M61.06,223.22 L57.54,223.22 M59.8,222.64 L59.8,223.91 M57.62,222.64 L58.29,223.91 M61.19,224.93 L57.41,224.93 M60.22,224.11 L60.22,225.82 M58.88,224.11 L58.88,225.82 M57.54,224.11 L57.54,225.82" stroke-width="1.1875" stroke="#000"/>
<path d="M60.14,226.31 L60.14,229.45 M61.23,227.88 L57.37,227.88 M59.97,227.88 L57.79,226.45 M59.97,227.88 L57.79,229.31 M58.88,226.85 L58.88,228.9" stroke-width="1.1875" stroke="#000"/>
<path d="M61.06,230.49 L57.54,230.49 M59.8,229.91 L59.8,231.17 M57.62,229.91 L58.29,231.17 M61.19,232.19 L57.41,232.19 M60.22,231.37 L60.22,233.08 M58.88,231.37 L58.88,233.08 M57.54,231.37 L57.54,233.08" stroke-width="1.1875" stroke="#000"/>
<path d="M61.4,235.14 L60.81,235.14 M60.14,233.64 L60.73,233.64 L60.73,236.64 L60.14,236.64 M59.64,234.12 L59.64,236.17 M58.8,234.12 L58.8,236.17 M57.62,233.61 L57.62,236.68 M59.64,235.14 L57.62,235.14" stroke-width="1.1875" stroke="#000"/>
<path d="M61.06,237.75 L57.54,237.75 M59.8,237.17 L59.8,238.43 M57.62,237.17 L58.29,238.43 M61.19,239.46 L57.41,239.46 M60.22,238.64 L60.22,240.34 M58.88,238.64 L58.88,240.34 M57.54,238.64 L57.54,240.34" stroke-width="1.1875" stroke="#000"/>
<path d="M60.98,240.97 L60.98,243.84 M59.3,241.18 L59.3,243.63 M57.54,240.83 L57.54,243.98 M60.98,242.41 L57.54,242.41 M60.22,241.55 L60.22,243.26 M58.38,241.55 L58.38,243.26" stroke-width="1.1875" stroke="#000"/>
<path d="M61.4,246.04 L60.81,246.04 M60.14,244.53 L60.73,244.53 L60.73,247.54 L60.14,247.54 M59.64,245.01 L59.64,247.06 M58.8,245.01 L58.8,247.06 M57.62,244.5 L57.62,247.57 M59.64,246.04 L57.62,246.04" stroke-width="1.1875" stroke="#000"/>
<path d="M61.06,248.64 L57.54,248.64 M59.8,248.06 L59.8,249.33 M57.62,248.06 L58.29,249.33 M61.19,250.35 L57.41,250.35 M60.22,249.53 L60.22,251.24 M58.88,249.53 L58.88,251.24 M57.54,249.53 L57.54,251.24" stroke-width="1.1875" stroke="#000"/>
<path d="M61.4,253.3 L60.81,253.3 M60.14,251.8 L60.73,251.8 L60.73,254.8 L60.14,254.8 M59.64,252.28 L59.64,254.32 M58.8,252.28 L58.8,254.32 M57.62,251.76 L57.62,254.84 M59.64,253.3 L57.62,253.3" stroke-width="1.1875" stroke="#000"/>
<path d="M60.14,255.36 L60.14,258.5 M61.23,256.93 L57.37,256.93 M59.97,256.93 L57.79,255.5 M59.97,256.93 L57.79,258.37 M58.88,255.91 L58.88,257.96" stroke-width="1.1875" stroke="#000"/>
<path d="M60.9,259.2 L60.9,262 M60.9,259.27 L57.41,259.27 M59.72,259.88 L59.72,262 M58.63,259.88 L58.63,262 M59.72,260.9 L57.41,260.9 M57.54,259.88 L57.54,262" stroke-width="1.1875" stroke="#000"/>
<path d="M60.98,262.76 L60.98,265.63 M59.3,262.97 L59.3,265.42 M57.54,262.62 L57.54,265.77 M60.98,264.19 L57.54,264.19 M60.22,263.34 L60.22,265.05 M58.38,263.34 L58.38,265.05" stroke-width="1.1875" stroke="#000"/>
<path d="M60.9,266.46 L60.9,269.26 M60.9,266.53 L57.41,266.53 M59.72,267.14 L59.72,269.26 M58.63,267.14 L58.63,269.26 M59.72,268.17 L57.41,268.17 M57.54,267.14 L57.54,269.26" stroke-width="1.1875" stroke="#000"/>
<path d="M61.4,271.46 L60.81,271.46 M60.14,269.96 L60.73,269.96 L60.73,272.96 L60.14,272.96 M59.64,270.43 L59.64,272.48 M58.8,270.43 L58.8,272.48 M57.62,269.92 L57.62,272.99 M59.64,271.46 L57.62,271.46" stroke-width="1.1875" stroke="#000"/>
<path d="M60.9,273.72 L60.9,276.52 M60.9,273.79 L57.41,273.79 M59.72,274.41 L59.72,276.52 M58.63,274.41 L58.63,276.52 M59.72,275.43 L57.41,275.43 M57.54,274.41 L57.54,276.52" stroke-width="1.1875" stroke="#000"/>
<path d="M61.06,277.7 L57.54,277.7 M59.8,277.12 L59.8,278.38 M57.62,277.12 L58.29,278.38 M61.19,279.4 L57.41,279.4 M60.22,278.58 L60.22,280.29 M58.88,278.58 L58.88,280.29 M57.54,278.58 L57.54,280.29" stroke-width="1.1875" stroke="#000"/>
<path d="M61.06,281.33 L57.54,281.33 M59.8,280.75 L59.8,282.01 M57.62,280.75 L58.29,282.01 M61.19,283.04 L57.41,283.04 M60.22,282.22 L60.22,283.92 M58.88,282.22 L58.88,283.92 M57.54,282.22 L57.54,283.92" stroke-width="1.1875" stroke="#000"/>
<path d="M61.4,285.98 L60.81,285.98 M60.14,284.48 L60.73,284.48 L60.73,287.49 L60.14,287.49 M59.64,284.96 L59.64,287.01 M58.8,284.96 L58.8,287.01 M57.62,284.45 L57.62,287.52 M59.64,285.98 L57.62,285.98" stroke-width="1.1875" stroke="#000"/>
<path d="M53.28,219.05 L53.28,222.19 M54.42,220.62 L50.38,220.62 M53.1,220.62 L50.82,219.18 M53.1,220.62 L50.82,222.05 M51.96,219.59 L51.96,221.64" stroke-width="1.1875" stroke="#000"/>
<path d="M54.25,223.22 L50.55,223.22 M52.93,222.64 L52.93,223.91 M50.64,222.64 L51.34,223.91 M54.38,224.93 L50.42,224.93 M53.37,224.11 L53.37,225.82 M51.96,224.11 L51.96,225.82 M50.55,224.11 L50.55,225.82" stroke-width="1.1875" stroke="#000"/>
<path d="M54.16,226.45 L54.16,229.31 M52.4,226.65 L52.4,229.11 M50.55,226.31 L50.55,229.45 M54.16,227.88 L50.55,227.88 M53.37,227.03 L53.37,228.73 M51.43,227.03 L51.43,228.73" stroke-width="1.1875" stroke="#000"/>
<path d="M54.16,230.08 L54.16,232.94 M52.4,230.28 L52.4,232.74 M50.55,229.94 L50.55,233.08 M54.16,231.51 L50.55,231.51 M53.37,230.66 L53.37,232.36 M51.43,230.66 L51.43,232.36" stroke-width="1.1875" stroke="#000"/>
<path d="M54.25,234.12 L50.55,234.12 M52.93,233.54 L52.93,234.8 M50.64,233.54 L51.34,234.8 M54.38,235.82 L50.42,235.82 M53.37,235.01 L53.37,236.71 M51.96,235.01 L51.96,236.71 M50.55,235.01 L50.55,236.71" stroke-width="1.1875" stroke="#000"/>
<path d="M54.16,237.41 L54.16,240.14 L50.55,240.14 L50.55,237.41 L54.16,237.41 M52.4,237.41 L52.4,240.14 M54.16,238.77 L50.55,238.77" stroke-width="1.1875" stroke="#000"/>
<path d="M54.25,241.38 L50.55,241.38 M52.93,240.8 L52.93,242.06 M50.64,240.8 L51.34,242.06 M54.38,243.09 L50.42,243.09 M53.37,242.27 L53.37,243.98 M51.96,242.27 L51.96,243.98 M50.55,242.27 L50.55,243.98" stroke-width="1.1875" stroke="#000"/>
<path d="M54.16,244.67 L54.16,247.4 L50.55,247.4 L50.55,244.67 L54.16,244.67 M52.4,244.67 L52.4,247.4 M54.16,246.04 L50.55,246.04" stroke-width="1.1875" stroke="#000"/>
<path d="M54.25,248.64 L50.55,248.64 M52.93,248.06 L52.93,249.33 M50.64,248.06 L51.34,249.33 M54.38,250.35 L50.42,250.35 M53.37,249.53 L53.37,251.24 M51.96,249.53 L51.96,251.24 M50.55,249.53 L50.55,251.24" stroke-width="1.1875" stroke="#000"/>
<path d="M54.25,252.28 L50.55,252.28 M52.93,251.7 L52.93,252.96 M50.64,251.7 L51.34,252.96 M54.38,253.98 L50.42,253.98 M53.37,253.16 L53.37,254.87 M51.96,253.16 L51.96,254.87 M50.55,253.16 L50.55,254.87" stroke-width="1.1875" stroke="#000"/>
<path d="M54.16,255.5 L54.16,258.37 M52.4,255.7 L52.4,258.16 M50.55,255.36 L50.55,258.5 M54.16,256.93 L50.55,256.93 M53.37,256.08 L53.37,257.79 M51.43,256.08 L51.43,257.79" stroke-width="1.1875" stroke="#000"/>
<path d="M54.25,259.54 L50.55,259.54 M52.93,258.96 L52.93,260.22 M50.64,258.96 L51.34,260.22 M54.38,261.25 L50.42,261.25 M53.37,260.43 L53.37,262.13 M51.96,260.43 L51.96,262.13 M50.55,260.43 L50.55,262.13" stroke-width="1.1875" stroke="#000"/>
<path d="M54.25,263.17 L50.55,263.17 M52.93,262.59 L52.93,263.85 M50.64,262.59 L51.34,263.85 M54.38,264.88 L50.42,264.88 M53.37,264.06 L53.37,265.77 M51.96,264.06 L51.96,265.77 M50.55,264.06 L50.55,265.77" stroke-width="1.1875" stroke="#000"/>
<path d="M53.28,266.26 L53.28,269.4 M54.42,267.83 L50.38,267.83 M53.1,267.83 L50.82,266.39 M53.1,267.83 L50.82,269.26 M51.96,266.8 L51.96,268.85" stroke-width="1.1875" stroke="#000"/>
<path d="M54.07,270.09 L54.07,272.89 M54.07,270.16 L50.42,270.16 M52.84,270.78 L52.84,272.89 M51.7,270.78 L51.7,272.89 M52.84,271.8 L50.42,271.8 M50.55,270.78 L50.55,272.89" stroke-width="1.1875" stroke="#000"/>
<path d="M54.07,273.72 L54.07,276.52 M54.07,273.79 L50.42,273.79 M52.84,274.41 L52.84,276.52 M51.7,274.41 L51.7,276.52 M52.84,275.43 L50.42,275.43 M50.55,274.41 L50.55,276.52" stroke-width="1.1875" stroke="#000"/>
<path d="M54.16,277.29 L54.16,280.15 M52.4,277.49 L52.4,279.95 M50.55,277.15 L50.55,280.29 M54.16,278.72 L50.55,278.72 M53.37,277.87 L53.37,279.57 M51.43,277.87 L51.43,279.57" stroke-width="1.1875" stroke="#000"/>
<path d="M54.6,282.35 L53.98,282.35 M53.28,280.85 L53.9,280.85 L53.9,283.85 L53.28,283.85 M52.75,281.33 L52.75,283.38 M51.87,281.33 L51.87,283.38 M50.64,280.82 L50.64,283.89 M52.75,282.35 L50.64,282.35" stroke-width="1.1875" stroke="#000"/>
<path d="M54.6,285.98 L53.98,285.98 M53.28,284.48 L53.9,284.48 L53.9,287.49 L53.28,287.49 M52.75,284.96 L52.75,287.01 M51.87,284.96 L51.87,287.01 M50.64,284.45 L50.64,287.52 M52.75,285.98 L50.64,285.98" stroke-width="1.1875" stroke="#000"/>
<path d="M91.56,171.17 L91.56,173.87 L87.95,173.87 L87.95,171.17 L91.56,171.17 M89.8,171.17 L89.8,173.87 M91.56,172.52 L87.95,172.52" stroke-width="1.25" stroke="#000"/>
<path d="M91.65,175.35 L87.95,175.35 M90.33,174.77 L90.33,176.02 M88.04,174.77 L88.74,176.02 M91.78,177.04 L87.82,177.04 M90.77,176.22 L90.77,177.91 M89.36,176.22 L89.36,177.91 M87.95,176.22 L87.95,177.91" stroke-width="1.25" stroke="#000"/>
<path d="M91.56,178.78 L91.56,181.62 M89.8,178.98 L89.8,181.42 M87.95,178.65 L87.95,181.75 M91.56,180.2 L87.95,180.2 M90.77,179.36 L90.77,181.04 M88.83,179.36 L88.83,181.04" stroke-width="1.25" stroke="#000"/>
<path d="M91.56,182.69 L91.56,185.39 L87.95,185.39 L87.95,182.69 L91.56,182.69 M89.8,182.69 L89.8,185.39 M91.56,184.04 L87.95,184.04" stroke-width="1.25" stroke="#000"/>
<path d="M92,187.88 L91.38,187.88 M90.68,186.39 L91.3,186.39 L91.3,189.37 L90.68,189.37 M90.15,186.87 L90.15,188.89 M89.27,186.87 L89.27,188.89 M88.04,186.36 L88.04,189.4 M90.15,187.88 L88.04,187.88" stroke-width="1.25" stroke="#000"/>
<path d="M80.66,171.51 L77.14,171.51 M79.4,170.93 L79.4,172.18 M77.22,170.93 L77.89,172.18 M80.79,173.2 L77.01,173.2 M79.82,172.38 L79.82,174.07 M78.48,172.38 L78.48,174.07 M77.14,172.38 L77.14,174.07" stroke-width="1.25" stroke="#000"/>
<path d="M80.58,175.01 L80.58,177.71 L77.14,177.71 L77.14,175.01 L80.58,175.01 M78.9,175.01 L78.9,177.71 M80.58,176.36 L77.14,176.36" stroke-width="1.25" stroke="#000"/>
<path d="M80.66,179.19 L77.14,179.19 M79.4,178.61 L79.4,179.86 M77.22,178.61 L77.89,179.86 M80.79,180.88 L77.01,180.88 M79.82,180.06 L79.82,181.75 M78.48,180.06 L78.48,181.75 M77.14,180.06 L77.14,181.75" stroke-width="1.25" stroke="#000"/>
<path d="M80.58,182.69 L80.58,185.39 L77.14,185.39 L77.14,182.69 L80.58,182.69 M78.9,182.69 L78.9,185.39 M80.58,184.04 L77.14,184.04" stroke-width="1.25" stroke="#000"/>
<path d="M81,187.88 L80.41,187.88 M79.74,186.39 L80.33,186.39 L80.33,189.37 L79.74,189.37 M79.24,186.87 L79.24,188.89 M78.4,186.87 L78.4,188.89 M77.22,186.36 L77.22,189.4 M79.24,187.88 L77.22,187.88" stroke-width="1.25" stroke="#000"/>
<path d="M69.78,173.73 L69.78,176.57 M70.66,175.15 L67.54,175.15 M69.64,175.15 L67.88,173.86 M69.64,175.15 L67.88,176.44 M68.76,174.23 L68.76,176.07" stroke-width="1.25" stroke="#000"/>
<path d="M70.8,178.65 L70.32,178.65 M69.78,177.29 L70.26,177.29 L70.26,180.01 L69.78,180.01 M69.37,177.73 L69.37,179.57 M68.69,177.73 L68.69,179.57 M67.74,177.26 L67.74,180.04 M69.37,178.65 L67.74,178.65" stroke-width="1.25" stroke="#000"/>
<path d="M70.8,182.15 L70.32,182.15 M69.78,180.79 L70.26,180.79 L70.26,183.51 L69.78,183.51 M69.37,181.23 L69.37,183.07 M68.69,181.23 L68.69,183.07 M67.74,180.76 L67.74,183.54 M69.37,182.15 L67.74,182.15" stroke-width="1.25" stroke="#000"/>
<path d="M70.39,184.42 L70.39,186.94 M70.39,184.48 L67.57,184.48 M69.44,185.03 L69.44,186.94 M68.56,185.03 L68.56,186.94 M69.44,185.96 L67.57,185.96 M67.67,185.03 L67.67,186.94" stroke-width="1.25" stroke="#000"/>
<line x1="59.6" y1="164.6" x2="59.6" y2="195" stroke-width="2.4" stroke="#222" stroke-dasharray="1.6 0.5"/>
<path d="M51.26,165.1 L51.26,167.56 M51.26,165.16 L48.94,165.16 M50.48,165.7 L50.48,167.56 M49.75,165.7 L49.75,167.56 M50.48,166.6 L48.94,166.6 M49.02,165.7 L49.02,167.56" stroke-width="1.0" stroke="#000"/>
<path d="M41.92,165.04 L41.92,167.56 M40.8,165.22 L40.8,167.38 M39.62,164.92 L39.62,167.68 M41.92,166.3 L39.62,166.3 M41.42,165.55 L41.42,167.05 M40.18,165.55 L40.18,167.05" stroke-width="1.0" stroke="#000"/>
</g>
</svg>
</body></html>
